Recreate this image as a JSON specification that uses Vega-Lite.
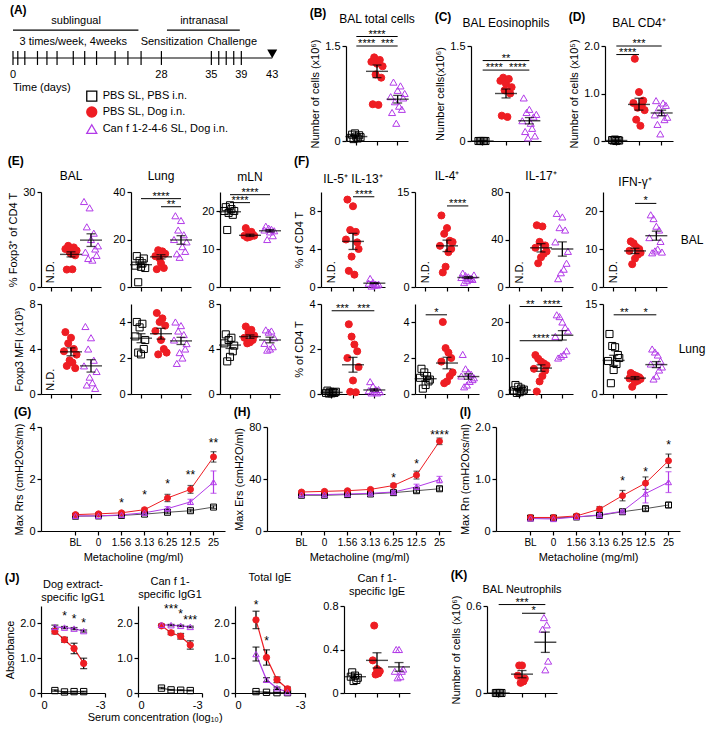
{
"$schema":"https://vega.github.io/schema/vega-lite/v6.json",
"background":"white",
"padding":{"left":4,"top":4,"right":4,"bottom":2},
"config":{
 "font":"Liberation Sans",
 "view":{"stroke":null},
 "axis":{"grid":false,"domainColor":"#000","domainWidth":1.2,"tickColor":"#000","tickWidth":1.2,"tickSize":4,"labelColor":"#000","labelFontSize":11,"labelPadding":2,"titleColor":"#000","titleFontSize":11,"titleFontWeight":"normal","titlePadding":4},
 "title":{"fontSize":12,"fontWeight":"normal","offset":3,"color":"#000"},
 "text":{"color":"#000"}
},
"datasets":{
"pts":[
{"p":"B","g":"P","k":2,"v":0.05},{"p":"B","g":"P","k":3,"v":0.1},{"p":"B","g":"P","k":4,"v":0.03},{"p":"B","g":"P","k":5,"v":0.12},{"p":"B","g":"P","k":6,"v":0.07},{"p":"B","g":"P","k":7,"v":0.04},{"p":"B","g":"P","k":8,"v":0.09},{"p":"B","g":"P","k":9,"v":0.06},
{"p":"B","g":"D","k":2,"v":1.25},{"p":"B","g":"D","k":3,"v":0.58},{"p":"B","g":"D","k":4,"v":1.32},{"p":"B","g":"D","k":5,"v":1.05},{"p":"B","g":"D","k":6,"v":1.22},{"p":"B","g":"D","k":7,"v":0.57},{"p":"B","g":"D","k":8,"v":1.28},{"p":"B","g":"D","k":9,"v":1.0},{"p":"B","g":"D","k":10,"v":1.18},
{"p":"B","g":"C","k":1,"v":0.7},{"p":"B","g":"C","k":2,"v":0.45},{"p":"B","g":"C","k":3,"v":0.93},{"p":"B","g":"C","k":4,"v":0.62},{"p":"B","g":"C","k":5,"v":0.28},{"p":"B","g":"C","k":6,"v":0.8},{"p":"B","g":"C","k":7,"v":0.55},{"p":"B","g":"C","k":8,"v":0.87},{"p":"B","g":"C","k":9,"v":0.5},{"p":"B","g":"C","k":10,"v":0.68},{"p":"B","g":"C","k":11,"v":0.75},
{"p":"C","g":"P","k":3,"v":0},{"p":"C","g":"P","k":4,"v":0},{"p":"C","g":"P","k":5,"v":0},{"p":"C","g":"P","k":6,"v":0},{"p":"C","g":"P","k":7,"v":0},{"p":"C","g":"P","k":8,"v":0},
{"p":"C","g":"D","k":2,"v":0.95},{"p":"C","g":"D","k":3,"v":0.4},{"p":"C","g":"D","k":4,"v":1.0},{"p":"C","g":"D","k":5,"v":0.8},{"p":"C","g":"D","k":6,"v":0.9},{"p":"C","g":"D","k":7,"v":0.38},{"p":"C","g":"D","k":8,"v":0.98},{"p":"C","g":"D","k":9,"v":0.75},{"p":"C","g":"D","k":10,"v":0.85},
{"p":"C","g":"C","k":1,"v":0.32},{"p":"C","g":"C","k":2,"v":0.68},{"p":"C","g":"C","k":3,"v":0.15},{"p":"C","g":"C","k":4,"v":0.45},{"p":"C","g":"C","k":5,"v":0.05},{"p":"C","g":"C","k":6,"v":0.5},{"p":"C","g":"C","k":7,"v":0.28},{"p":"C","g":"C","k":8,"v":0.2},{"p":"C","g":"C","k":9,"v":0.38},{"p":"C","g":"C","k":10,"v":0.08},{"p":"C","g":"C","k":11,"v":0.42},
{"p":"D","g":"P","k":3,"v":0.02},{"p":"D","g":"P","k":4,"v":0.01},{"p":"D","g":"P","k":5,"v":0.03},{"p":"D","g":"P","k":6,"v":0},{"p":"D","g":"P","k":7,"v":0.02},{"p":"D","g":"P","k":8,"v":0.01},
{"p":"D","g":"D","k":2,"v":0.8},{"p":"D","g":"D","k":3,"v":1.73},{"p":"D","g":"D","k":4,"v":0.45},{"p":"D","g":"D","k":5,"v":0.7},{"p":"D","g":"D","k":6,"v":1.03},{"p":"D","g":"D","k":7,"v":0.32},{"p":"D","g":"D","k":8,"v":0.75},{"p":"D","g":"D","k":9,"v":0.85},{"p":"D","g":"D","k":10,"v":0.65},
{"p":"D","g":"C","k":1,"v":0.55},{"p":"D","g":"C","k":2,"v":0.85},{"p":"D","g":"C","k":3,"v":0.35},{"p":"D","g":"C","k":4,"v":0.7},{"p":"D","g":"C","k":5,"v":0.15},{"p":"D","g":"C","k":6,"v":0.6},{"p":"D","g":"C","k":7,"v":0.8},{"p":"D","g":"C","k":8,"v":0.45},{"p":"D","g":"C","k":9,"v":0.75},{"p":"D","g":"C","k":10,"v":0.5},
{"p":"E1","g":"D","k":2,"v":12},{"p":"E1","g":"D","k":3,"v":5.5},{"p":"E1","g":"D","k":4,"v":13},{"p":"E1","g":"D","k":5,"v":11},{"p":"E1","g":"D","k":6,"v":10.5},{"p":"E1","g":"D","k":7,"v":5.6},{"p":"E1","g":"D","k":8,"v":12.5},{"p":"E1","g":"D","k":9,"v":10},{"p":"E1","g":"D","k":10,"v":11.5},
{"p":"E1","g":"C","k":1,"v":27},{"p":"E1","g":"C","k":2,"v":11},{"p":"E1","g":"C","k":3,"v":19},{"p":"E1","g":"C","k":4,"v":9},{"p":"E1","g":"C","k":5,"v":25},{"p":"E1","g":"C","k":6,"v":15},{"p":"E1","g":"C","k":7,"v":8.5},{"p":"E1","g":"C","k":8,"v":17},{"p":"E1","g":"C","k":9,"v":12},{"p":"E1","g":"C","k":10,"v":10},{"p":"E1","g":"C","k":11,"v":13},
{"p":"E2","g":"P","k":2,"v":9},{"p":"E2","g":"P","k":3,"v":13},{"p":"E2","g":"P","k":4,"v":2},{"p":"E2","g":"P","k":5,"v":11},{"p":"E2","g":"P","k":6,"v":8.5},{"p":"E2","g":"P","k":7,"v":10},{"p":"E2","g":"P","k":8,"v":12},{"p":"E2","g":"P","k":9,"v":8},
{"p":"E2","g":"D","k":2,"v":13},{"p":"E2","g":"D","k":3,"v":7.5},{"p":"E2","g":"D","k":4,"v":15.5},{"p":"E2","g":"D","k":5,"v":12},{"p":"E2","g":"D","k":6,"v":10},{"p":"E2","g":"D","k":7,"v":15},{"p":"E2","g":"D","k":8,"v":8},{"p":"E2","g":"D","k":9,"v":14},
{"p":"E2","g":"C","k":1,"v":20},{"p":"E2","g":"C","k":2,"v":30},{"p":"E2","g":"C","k":3,"v":14},{"p":"E2","g":"C","k":4,"v":24},{"p":"E2","g":"C","k":5,"v":12.5},{"p":"E2","g":"C","k":6,"v":28},{"p":"E2","g":"C","k":7,"v":17},{"p":"E2","g":"C","k":8,"v":22},{"p":"E2","g":"C","k":9,"v":15},{"p":"E2","g":"C","k":10,"v":19},
{"p":"E3","g":"P","k":2,"v":20},{"p":"E3","g":"P","k":3,"v":21},{"p":"E3","g":"P","k":4,"v":15},{"p":"E3","g":"P","k":5,"v":19.5},{"p":"E3","g":"P","k":6,"v":21.5},{"p":"E3","g":"P","k":7,"v":20.5},{"p":"E3","g":"P","k":8,"v":19},{"p":"E3","g":"P","k":9,"v":20},
{"p":"E3","g":"D","k":2,"v":13.5},{"p":"E3","g":"D","k":3,"v":15.5},{"p":"E3","g":"D","k":4,"v":13},{"p":"E3","g":"D","k":5,"v":14},{"p":"E3","g":"D","k":6,"v":13.2},{"p":"E3","g":"D","k":7,"v":14.5},{"p":"E3","g":"D","k":8,"v":13.8},{"p":"E3","g":"D","k":9,"v":13.5},
{"p":"E3","g":"C","k":2,"v":15},{"p":"E3","g":"C","k":3,"v":16},{"p":"E3","g":"C","k":4,"v":12.5},{"p":"E3","g":"C","k":5,"v":15.5},{"p":"E3","g":"C","k":6,"v":14.5},{"p":"E3","g":"C","k":7,"v":15.2},{"p":"E3","g":"C","k":8,"v":13.5},{"p":"E3","g":"C","k":9,"v":14.8},
{"p":"E4","g":"D","k":1,"v":3.8},{"p":"E4","g":"D","k":2,"v":5.5},{"p":"E4","g":"D","k":3,"v":2.5},{"p":"E4","g":"D","k":4,"v":4.5},{"p":"E4","g":"D","k":5,"v":3.0},{"p":"E4","g":"D","k":6,"v":5.0},{"p":"E4","g":"D","k":7,"v":2.8},{"p":"E4","g":"D","k":8,"v":4.0},{"p":"E4","g":"D","k":9,"v":2.3},{"p":"E4","g":"D","k":10,"v":3.5},
{"p":"E4","g":"C","k":1,"v":2.5},{"p":"E4","g":"C","k":2,"v":6},{"p":"E4","g":"C","k":3,"v":0.8},{"p":"E4","g":"C","k":4,"v":4},{"p":"E4","g":"C","k":5,"v":1.5},{"p":"E4","g":"C","k":6,"v":5},{"p":"E4","g":"C","k":7,"v":1},{"p":"E4","g":"C","k":8,"v":3},{"p":"E4","g":"C","k":9,"v":0.5},{"p":"E4","g":"C","k":10,"v":2},
{"p":"E5","g":"P","k":2,"v":3.2},{"p":"E5","g":"P","k":3,"v":4.0},{"p":"E5","g":"P","k":4,"v":2.3},{"p":"E5","g":"P","k":5,"v":3.7},{"p":"E5","g":"P","k":6,"v":2.2},{"p":"E5","g":"P","k":7,"v":3.9},{"p":"E5","g":"P","k":8,"v":2.5},{"p":"E5","g":"P","k":9,"v":3.0},
{"p":"E5","g":"D","k":2,"v":3.5},{"p":"E5","g":"D","k":3,"v":4.5},{"p":"E5","g":"D","k":4,"v":2.2},{"p":"E5","g":"D","k":5,"v":4.0},{"p":"E5","g":"D","k":6,"v":3.0},{"p":"E5","g":"D","k":7,"v":4.2},{"p":"E5","g":"D","k":8,"v":2.5},{"p":"E5","g":"D","k":9,"v":3.8},{"p":"E5","g":"D","k":10,"v":2.3},
{"p":"E5","g":"C","k":1,"v":3.0},{"p":"E5","g":"C","k":2,"v":4.0},{"p":"E5","g":"C","k":3,"v":1.7},{"p":"E5","g":"C","k":4,"v":3.5},{"p":"E5","g":"C","k":5,"v":2.3},{"p":"E5","g":"C","k":6,"v":3.8},{"p":"E5","g":"C","k":7,"v":2.0},{"p":"E5","g":"C","k":8,"v":3.3},{"p":"E5","g":"C","k":9,"v":2.5},{"p":"E5","g":"C","k":10,"v":2.8},
{"p":"E6","g":"P","k":2,"v":4.5},{"p":"E6","g":"P","k":3,"v":5.3},{"p":"E6","g":"P","k":4,"v":2.9},{"p":"E6","g":"P","k":5,"v":4.8},{"p":"E6","g":"P","k":6,"v":3.3},{"p":"E6","g":"P","k":7,"v":5.0},{"p":"E6","g":"P","k":8,"v":3.8},{"p":"E6","g":"P","k":9,"v":4.3},
{"p":"E6","g":"D","k":2,"v":5.0},{"p":"E6","g":"D","k":3,"v":6.0},{"p":"E6","g":"D","k":4,"v":4.5},{"p":"E6","g":"D","k":5,"v":5.5},{"p":"E6","g":"D","k":6,"v":4.6},{"p":"E6","g":"D","k":7,"v":5.7},{"p":"E6","g":"D","k":8,"v":4.8},{"p":"E6","g":"D","k":9,"v":5.2},
{"p":"E6","g":"C","k":2,"v":4.5},{"p":"E6","g":"C","k":3,"v":5.7},{"p":"E6","g":"C","k":4,"v":3.9},{"p":"E6","g":"C","k":5,"v":5.5},{"p":"E6","g":"C","k":6,"v":4.0},{"p":"E6","g":"C","k":7,"v":5.6},{"p":"E6","g":"C","k":8,"v":4.2},{"p":"E6","g":"C","k":9,"v":5.0},
{"p":"F1","g":"D","k":1,"v":5.0},{"p":"F1","g":"D","k":2,"v":9.2},{"p":"F1","g":"D","k":3,"v":1.7},{"p":"F1","g":"D","k":4,"v":6.0},{"p":"F1","g":"D","k":5,"v":3.2},{"p":"F1","g":"D","k":6,"v":8.5},{"p":"F1","g":"D","k":7,"v":1.3},{"p":"F1","g":"D","k":8,"v":5.8},{"p":"F1","g":"D","k":9,"v":4.7},{"p":"F1","g":"D","k":10,"v":4.0},
{"p":"F1","g":"C","k":2,"v":0.4},{"p":"F1","g":"C","k":3,"v":0.9},{"p":"F1","g":"C","k":4,"v":0.1},{"p":"F1","g":"C","k":5,"v":0.5},{"p":"F1","g":"C","k":6,"v":0.2},{"p":"F1","g":"C","k":7,"v":0.3},{"p":"F1","g":"C","k":8,"v":0.2},{"p":"F1","g":"C","k":9,"v":0.3},
{"p":"F2","g":"D","k":1,"v":6.5},{"p":"F2","g":"D","k":2,"v":11.3},{"p":"F2","g":"D","k":3,"v":2.3},{"p":"F2","g":"D","k":4,"v":8.4},{"p":"F2","g":"D","k":5,"v":3.2},{"p":"F2","g":"D","k":6,"v":9.3},{"p":"F2","g":"D","k":7,"v":5.5},{"p":"F2","g":"D","k":8,"v":7.3},{"p":"F2","g":"D","k":9,"v":6.0},{"p":"F2","g":"D","k":10,"v":7.1},
{"p":"F2","g":"C","k":1,"v":1.5},{"p":"F2","g":"C","k":2,"v":2.2},{"p":"F2","g":"C","k":3,"v":0.7},{"p":"F2","g":"C","k":4,"v":1.8},{"p":"F2","g":"C","k":5,"v":1.0},{"p":"F2","g":"C","k":6,"v":1.6},{"p":"F2","g":"C","k":7,"v":1.3},{"p":"F2","g":"C","k":8,"v":1.4},{"p":"F2","g":"C","k":9,"v":1.2},{"p":"F2","g":"C","k":10,"v":1.9},
{"p":"F3","g":"D","k":2,"v":33},{"p":"F3","g":"D","k":3,"v":52},{"p":"F3","g":"D","k":4,"v":20},{"p":"F3","g":"D","k":5,"v":38},{"p":"F3","g":"D","k":6,"v":25},{"p":"F3","g":"D","k":7,"v":51},{"p":"F3","g":"D","k":8,"v":28},{"p":"F3","g":"D","k":9,"v":35},{"p":"F3","g":"D","k":10,"v":30},
{"p":"F3","g":"C","k":1,"v":38},{"p":"F3","g":"C","k":2,"v":62},{"p":"F3","g":"C","k":3,"v":7},{"p":"F3","g":"C","k":4,"v":50},{"p":"F3","g":"C","k":5,"v":12},{"p":"F3","g":"C","k":6,"v":59},{"p":"F3","g":"C","k":7,"v":15},{"p":"F3","g":"C","k":8,"v":48},{"p":"F3","g":"C","k":9,"v":20},{"p":"F3","g":"C","k":10,"v":30},
{"p":"F4","g":"D","k":2,"v":9.5},{"p":"F4","g":"D","k":3,"v":12},{"p":"F4","g":"D","k":4,"v":6},{"p":"F4","g":"D","k":5,"v":11.5},{"p":"F4","g":"D","k":6,"v":7.5},{"p":"F4","g":"D","k":7,"v":10.5},{"p":"F4","g":"D","k":8,"v":8.5},{"p":"F4","g":"D","k":9,"v":10},{"p":"F4","g":"D","k":10,"v":9},
{"p":"F4","g":"C","k":1,"v":13},{"p":"F4","g":"C","k":2,"v":19},{"p":"F4","g":"C","k":3,"v":9},{"p":"F4","g":"C","k":4,"v":18},{"p":"F4","g":"C","k":5,"v":9.5},{"p":"F4","g":"C","k":6,"v":16},{"p":"F4","g":"C","k":7,"v":10},{"p":"F4","g":"C","k":8,"v":15},{"p":"F4","g":"C","k":9,"v":12},{"p":"F4","g":"C","k":10,"v":9.2},
{"p":"F5","g":"P","k":2,"v":0.05},{"p":"F5","g":"P","k":3,"v":0.15},{"p":"F5","g":"P","k":4,"v":0.02},{"p":"F5","g":"P","k":5,"v":0.1},{"p":"F5","g":"P","k":6,"v":0.03},{"p":"F5","g":"P","k":7,"v":0.08},{"p":"F5","g":"P","k":8,"v":0.05},{"p":"F5","g":"P","k":9,"v":0.1},
{"p":"F5","g":"D","k":2,"v":1.6},{"p":"F5","g":"D","k":3,"v":3.1},{"p":"F5","g":"D","k":4,"v":0.1},{"p":"F5","g":"D","k":5,"v":2.55},{"p":"F5","g":"D","k":6,"v":0.6},{"p":"F5","g":"D","k":7,"v":2.2},{"p":"F5","g":"D","k":8,"v":0.08},{"p":"F5","g":"D","k":9,"v":1.9},{"p":"F5","g":"D","k":10,"v":1.2},
{"p":"F5","g":"C","k":2,"v":0.15},{"p":"F5","g":"C","k":3,"v":0.55},{"p":"F5","g":"C","k":4,"v":0.05},{"p":"F5","g":"C","k":5,"v":0.35},{"p":"F5","g":"C","k":6,"v":0.1},{"p":"F5","g":"C","k":7,"v":0.2},{"p":"F5","g":"C","k":8,"v":0.05},{"p":"F5","g":"C","k":9,"v":0.2},{"p":"F5","g":"C","k":10,"v":0.1},
{"p":"F6","g":"P","k":2,"v":0.9},{"p":"F6","g":"P","k":3,"v":1.4},{"p":"F6","g":"P","k":4,"v":0.3},{"p":"F6","g":"P","k":5,"v":1.2},{"p":"F6","g":"P","k":6,"v":0.5},{"p":"F6","g":"P","k":7,"v":1.0},{"p":"F6","g":"P","k":8,"v":0.7},{"p":"F6","g":"P","k":9,"v":0.8},
{"p":"F6","g":"D","k":2,"v":1.8},{"p":"F6","g":"D","k":3,"v":4.0},{"p":"F6","g":"D","k":4,"v":0.6},{"p":"F6","g":"D","k":5,"v":2.55},{"p":"F6","g":"D","k":6,"v":0.7},{"p":"F6","g":"D","k":7,"v":2.3},{"p":"F6","g":"D","k":8,"v":1.0},{"p":"F6","g":"D","k":9,"v":2.0},{"p":"F6","g":"D","k":10,"v":1.2},
{"p":"F6","g":"C","k":1,"v":1.0},{"p":"F6","g":"C","k":2,"v":2.2},{"p":"F6","g":"C","k":3,"v":0.4},{"p":"F6","g":"C","k":4,"v":1.4},{"p":"F6","g":"C","k":5,"v":0.5},{"p":"F6","g":"C","k":6,"v":1.2},{"p":"F6","g":"C","k":7,"v":0.7},{"p":"F6","g":"C","k":8,"v":1.1},{"p":"F6","g":"C","k":9,"v":0.8},{"p":"F6","g":"C","k":10,"v":0.9},
{"p":"F7","g":"P","k":2,"v":1.0},{"p":"F7","g":"P","k":3,"v":2.5},{"p":"F7","g":"P","k":4,"v":0.3},{"p":"F7","g":"P","k":5,"v":2.0},{"p":"F7","g":"P","k":6,"v":0.5},{"p":"F7","g":"P","k":7,"v":1.5},{"p":"F7","g":"P","k":8,"v":0.8},{"p":"F7","g":"P","k":9,"v":1.2},
{"p":"F7","g":"D","k":1,"v":7.0},{"p":"F7","g":"D","k":2,"v":10.8},{"p":"F7","g":"D","k":3,"v":0.7},{"p":"F7","g":"D","k":4,"v":9.8},{"p":"F7","g":"D","k":5,"v":3.5},{"p":"F7","g":"D","k":6,"v":9.0},{"p":"F7","g":"D","k":7,"v":5.0},{"p":"F7","g":"D","k":8,"v":8.5},{"p":"F7","g":"D","k":9,"v":6.5},{"p":"F7","g":"D","k":10,"v":8.0},
{"p":"F7","g":"C","k":1,"v":16},{"p":"F7","g":"C","k":2,"v":22},{"p":"F7","g":"C","k":3,"v":10},{"p":"F7","g":"C","k":4,"v":21.5},{"p":"F7","g":"C","k":5,"v":10.5},{"p":"F7","g":"C","k":6,"v":20},{"p":"F7","g":"C","k":7,"v":11},{"p":"F7","g":"C","k":8,"v":18.5},{"p":"F7","g":"C","k":9,"v":12},{"p":"F7","g":"C","k":10,"v":17.5},
{"p":"F8","g":"P","k":2,"v":5.5},{"p":"F8","g":"P","k":3,"v":10},{"p":"F8","g":"P","k":4,"v":1.8},{"p":"F8","g":"P","k":5,"v":8},{"p":"F8","g":"P","k":6,"v":4},{"p":"F8","g":"P","k":7,"v":7.8},{"p":"F8","g":"P","k":8,"v":5},{"p":"F8","g":"P","k":9,"v":6.5},{"p":"F8","g":"P","k":10,"v":6},
{"p":"F8","g":"D","k":2,"v":2.6},{"p":"F8","g":"D","k":3,"v":3.5},{"p":"F8","g":"D","k":4,"v":1.2},{"p":"F8","g":"D","k":5,"v":3.2},{"p":"F8","g":"D","k":6,"v":2.0},{"p":"F8","g":"D","k":7,"v":3.0},{"p":"F8","g":"D","k":8,"v":2.2},{"p":"F8","g":"D","k":9,"v":2.8},{"p":"F8","g":"D","k":10,"v":2.5},
{"p":"F8","g":"C","k":2,"v":5.0},{"p":"F8","g":"C","k":3,"v":7.5},{"p":"F8","g":"C","k":4,"v":2.5},{"p":"F8","g":"C","k":5,"v":7.0},{"p":"F8","g":"C","k":6,"v":3.0},{"p":"F8","g":"C","k":7,"v":6.5},{"p":"F8","g":"C","k":8,"v":4.0},{"p":"F8","g":"C","k":9,"v":5.5},{"p":"F8","g":"C","k":10,"v":4.5},
{"p":"J4","g":"P","k":3,"v":0.15},{"p":"J4","g":"P","k":4,"v":0.19},{"p":"J4","g":"P","k":5,"v":0.11},{"p":"J4","g":"P","k":6,"v":0.16},{"p":"J4","g":"P","k":7,"v":0.12},{"p":"J4","g":"P","k":8,"v":0.14},
{"p":"J4","g":"D","k":3,"v":0.3},{"p":"J4","g":"D","k":4,"v":0.62},{"p":"J4","g":"D","k":5,"v":0.17},{"p":"J4","g":"D","k":6,"v":0.22},{"p":"J4","g":"D","k":7,"v":0.18},{"p":"J4","g":"D","k":8,"v":0.2},
{"p":"J4","g":"C","k":3,"v":0.2},{"p":"J4","g":"C","k":4,"v":0.4},{"p":"J4","g":"C","k":5,"v":0.14},{"p":"J4","g":"C","k":6,"v":0.4},{"p":"J4","g":"C","k":7,"v":0.15},{"p":"J4","g":"C","k":8,"v":0.2},{"p":"J4","g":"C","k":9,"v":0.22},
{"p":"K","g":"P","k":4,"v":0},{"p":"K","g":"P","k":5,"v":0},{"p":"K","g":"P","k":6,"v":0},{"p":"K","g":"P","k":7,"v":0},{"p":"K","g":"P","k":8,"v":0},
{"p":"K","g":"D","k":3,"v":0.12},{"p":"K","g":"D","k":4,"v":0.19},{"p":"K","g":"D","k":5,"v":0.07},{"p":"K","g":"D","k":6,"v":0.19},{"p":"K","g":"D","k":7,"v":0.08},{"p":"K","g":"D","k":8,"v":0.1},
{"p":"K","g":"C","k":4,"v":0.44},{"p":"K","g":"C","k":5,"v":0.52},{"p":"K","g":"C","k":6,"v":0.16},{"p":"K","g":"C","k":7,"v":0.47},{"p":"K","g":"C","k":8,"v":0.22}
],
"ms":[
{"p":"B","g":"P","m":0.07,"lo":0.05,"hi":0.09},{"p":"B","g":"D","m":1.1,"lo":1.0,"hi":1.2},{"p":"B","g":"C","m":0.66,"lo":0.6,"hi":0.72},
{"p":"C","g":"P","m":0,"lo":0,"hi":0},{"p":"C","g":"D","m":0.75,"lo":0.68,"hi":0.82},{"p":"C","g":"C","m":0.32,"lo":0.27,"hi":0.37},
{"p":"D","g":"P","m":0.01,"lo":0,"hi":0.02},{"p":"D","g":"D","m":0.77,"lo":0.65,"hi":0.9},{"p":"D","g":"C","m":0.59,"lo":0.53,"hi":0.65},
{"p":"E1","g":"D","m":10.3,"lo":9.5,"hi":11.1},{"p":"E1","g":"C","m":14.8,"lo":12.8,"hi":16.8},
{"p":"E2","g":"P","m":9.4,"lo":8.3,"hi":10.5},{"p":"E2","g":"D","m":12.7,"lo":11.8,"hi":13.6},{"p":"E2","g":"C","m":19.8,"lo":18,"hi":21.6},
{"p":"E3","g":"P","m":19.8,"lo":19.2,"hi":20.4},{"p":"E3","g":"D","m":13.6,"lo":13.3,"hi":13.9},{"p":"E3","g":"C","m":14.8,"lo":14.5,"hi":15.1},
{"p":"E4","g":"D","m":3.75,"lo":3.4,"hi":4.1},{"p":"E4","g":"C","m":2.5,"lo":1.95,"hi":3.05},
{"p":"E5","g":"P","m":3.1,"lo":2.85,"hi":3.35},{"p":"E5","g":"D","m":3.35,"lo":3.05,"hi":3.65},{"p":"E5","g":"C","m":2.95,"lo":2.75,"hi":3.15},
{"p":"E6","g":"P","m":4.35,"lo":4.05,"hi":4.65},{"p":"E6","g":"D","m":5.1,"lo":4.95,"hi":5.25},{"p":"E6","g":"C","m":4.8,"lo":4.55,"hi":5.05},
{"p":"F1","g":"D","m":4.8,"lo":3.95,"hi":5.65},{"p":"F1","g":"C","m":0.4,"lo":0.35,"hi":0.45},
{"p":"F2","g":"D","m":6.5,"lo":5.6,"hi":7.4},{"p":"F2","g":"C","m":1.5,"lo":1.35,"hi":1.65},
{"p":"F3","g":"D","m":33,"lo":29.5,"hi":36.5},{"p":"F3","g":"C","m":32,"lo":26,"hi":38},
{"p":"F4","g":"D","m":9.5,"lo":8.8,"hi":10.2},{"p":"F4","g":"C","m":13.5,"lo":12.3,"hi":14.7},
{"p":"F5","g":"P","m":0.07,"lo":0.05,"hi":0.09},{"p":"F5","g":"D","m":1.3,"lo":0.97,"hi":1.63},{"p":"F5","g":"C","m":0.18,"lo":0.13,"hi":0.23},
{"p":"F6","g":"P","m":0.85,"lo":0.73,"hi":0.97},{"p":"F6","g":"D","m":1.72,"lo":1.4,"hi":2.04},{"p":"F6","g":"C","m":0.97,"lo":0.82,"hi":1.12},
{"p":"F7","g":"P","m":1.1,"lo":0.8,"hi":1.4},{"p":"F7","g":"D","m":7.2,"lo":6.3,"hi":8.1},{"p":"F7","g":"C","m":16.3,"lo":15,"hi":17.6},
{"p":"F8","g":"P","m":5.6,"lo":4.75,"hi":6.45},{"p":"F8","g":"D","m":2.65,"lo":2.4,"hi":2.9},{"p":"F8","g":"C","m":4.9,"lo":4.4,"hi":5.4},
{"p":"J4","g":"P","m":0.15,"lo":0.13,"hi":0.17},{"p":"J4","g":"D","m":0.3,"lo":0.23,"hi":0.37},{"p":"J4","g":"C","m":0.24,"lo":0.2,"hi":0.28},
{"p":"K","g":"P","m":0,"lo":0,"hi":0},{"p":"K","g":"D","m":0.13,"lo":0.105,"hi":0.155},{"p":"K","g":"C","m":0.35,"lo":0.28,"hi":0.42}
],
"sg":[
{"p":"B","a":"P","b":"C","c":"D","y":1.65,"s":"****"},{"p":"B","a":"P","b":"D","c":"PD","y":1.5,"s":"****"},{"p":"B","a":"D","b":"C","c":"DC","y":1.5,"s":"***"},
{"p":"C","a":"P","b":"C","c":"D","y":1.27,"s":"**"},{"p":"C","a":"P","b":"D","c":"PD","y":1.12,"s":"****"},{"p":"C","a":"D","b":"C","c":"DC","y":1.12,"s":"****"},
{"p":"D","a":"P","b":"C","c":"D","y":2.0,"s":"***"},{"p":"D","a":"P","b":"D","c":"PD","y":1.82,"s":"****"},
{"p":"E2","a":"P","b":"C","c":"D","y":37.2,"s":"****"},{"p":"E2","a":"D","b":"C","c":"DC","y":33.8,"s":"**"},
{"p":"E3","a":"P","b":"C","c":"D","y":24.3,"s":"****"},{"p":"E3","a":"P","b":"D","c":"PD","y":22.2,"s":"****"},
{"p":"F1","a":"D","b":"C","c":"DC","y":9.5,"s":"****"},
{"p":"F2","a":"D","b":"C","c":"DC","y":12.8,"s":"****"},
{"p":"F4","a":"D","b":"C","c":"DC","y":22,"s":"*"},
{"p":"F5","a":"P","b":"D","c":"PD","y":3.7,"s":"***"},{"p":"F5","a":"D","b":"C","c":"DC","y":3.7,"s":"***"},
{"p":"F6","a":"P","b":"D","c":"PD","y":4.4,"s":"*"},
{"p":"F7","a":"P","b":"D","c":"PD","y":24.3,"s":"**"},{"p":"F7","a":"D","b":"C","c":"DC","y":24.3,"s":"****"},{"p":"F7","a":"P","b":"C","c":"D","y":14.8,"s":"****"},
{"p":"F8","a":"P","b":"D","c":"PD","y":13.2,"s":"**"},{"p":"F8","a":"D","b":"C","c":"DC","y":13.2,"s":"*"},
{"p":"K","a":"P","b":"C","c":"D","y":0.61,"s":"***"},{"p":"K","a":"D","b":"C","c":"DC","y":0.55,"s":"*"}
],
"nd":[
{"p":"E1","g":"P","y":1.2,"t":"N.D."},{"p":"E4","g":"P","y":0.3,"t":"N.D."},{"p":"F1","g":"P","y":0.4,"t":"N.D."},{"p":"F2","g":"P","y":0.6,"t":"N.D."},{"p":"F3","g":"P","y":3,"t":"N.D."},{"p":"F4","g":"P","y":1,"t":"N.D."}
],
"dr":[
{"p":"G","g":"P","d":"BL","m":0.57,"lo":0.54,"hi":0.6},{"p":"G","g":"P","d":"0","m":0.58,"lo":0.55,"hi":0.61},{"p":"G","g":"P","d":"1.56","m":0.6,"lo":0.57,"hi":0.63},{"p":"G","g":"P","d":"3.13","m":0.65,"lo":0.61,"hi":0.69},{"p":"G","g":"P","d":"6.25","m":0.72,"lo":0.67,"hi":0.77},{"p":"G","g":"P","d":"12.5","m":0.78,"lo":0.73,"hi":0.83},{"p":"G","g":"P","d":"25","m":0.92,"lo":0.87,"hi":0.97},
{"p":"G","g":"D","d":"BL","m":0.63,"lo":0.59,"hi":0.67},{"p":"G","g":"D","d":"0","m":0.66,"lo":0.61,"hi":0.71},{"p":"G","g":"D","d":"1.56","m":0.7,"lo":0.65,"hi":0.75},{"p":"G","g":"D","d":"3.13","m":0.82,"lo":0.76,"hi":0.88},{"p":"G","g":"D","d":"6.25","m":1.27,"lo":1.13,"hi":1.41},{"p":"G","g":"D","d":"12.5","m":1.6,"lo":1.45,"hi":1.75},{"p":"G","g":"D","d":"25","m":2.85,"lo":2.65,"hi":3.05},
{"p":"G","g":"C","d":"BL","m":0.58,"lo":0.55,"hi":0.61},{"p":"G","g":"C","d":"0","m":0.58,"lo":0.55,"hi":0.61},{"p":"G","g":"C","d":"1.56","m":0.62,"lo":0.59,"hi":0.65},{"p":"G","g":"C","d":"3.13","m":0.7,"lo":0.66,"hi":0.74},{"p":"G","g":"C","d":"6.25","m":0.86,"lo":0.78,"hi":0.94},{"p":"G","g":"C","d":"12.5","m":1.12,"lo":1.02,"hi":1.22},{"p":"G","g":"C","d":"25","m":1.88,"lo":1.45,"hi":2.31},
{"p":"H","g":"P","d":"BL","m":27.5,"lo":26.5,"hi":28.5},{"p":"H","g":"P","d":"0","m":27.5,"lo":26.5,"hi":28.5},{"p":"H","g":"P","d":"1.56","m":28,"lo":27,"hi":29},{"p":"H","g":"P","d":"3.13","m":28.5,"lo":27.5,"hi":29.5},{"p":"H","g":"P","d":"6.25","m":29.5,"lo":28.5,"hi":30.5},{"p":"H","g":"P","d":"12.5","m":31,"lo":29.5,"hi":32.5},{"p":"H","g":"P","d":"25","m":32.5,"lo":31,"hi":34},
{"p":"H","g":"D","d":"BL","m":30,"lo":29,"hi":31},{"p":"H","g":"D","d":"0","m":30.5,"lo":29.5,"hi":31.5},{"p":"H","g":"D","d":"1.56","m":31,"lo":30,"hi":32},{"p":"H","g":"D","d":"3.13","m":32,"lo":31,"hi":33},{"p":"H","g":"D","d":"6.25","m":35,"lo":33.5,"hi":36.5},{"p":"H","g":"D","d":"12.5","m":43,"lo":40,"hi":46},{"p":"H","g":"D","d":"25","m":69,"lo":66.5,"hi":71.5},
{"p":"H","g":"C","d":"BL","m":28,"lo":27,"hi":29},{"p":"H","g":"C","d":"0","m":28,"lo":27,"hi":29},{"p":"H","g":"C","d":"1.56","m":28.5,"lo":27.5,"hi":29.5},{"p":"H","g":"C","d":"3.13","m":29,"lo":28,"hi":30},{"p":"H","g":"C","d":"6.25","m":30,"lo":29,"hi":31},{"p":"H","g":"C","d":"12.5","m":34,"lo":32,"hi":36},{"p":"H","g":"C","d":"25","m":39.5,"lo":37,"hi":42},
{"p":"I","g":"P","d":"BL","m":0.25,"lo":0.23,"hi":0.27},{"p":"I","g":"P","d":"0","m":0.25,"lo":0.23,"hi":0.27},{"p":"I","g":"P","d":"1.56","m":0.27,"lo":0.25,"hi":0.29},{"p":"I","g":"P","d":"3.13","m":0.3,"lo":0.28,"hi":0.32},{"p":"I","g":"P","d":"6.25","m":0.37,"lo":0.35,"hi":0.39},{"p":"I","g":"P","d":"12.5","m":0.43,"lo":0.39,"hi":0.47},{"p":"I","g":"P","d":"25","m":0.5,"lo":0.45,"hi":0.55},
{"p":"I","g":"D","d":"BL","m":0.26,"lo":0.24,"hi":0.28},{"p":"I","g":"D","d":"0","m":0.26,"lo":0.24,"hi":0.28},{"p":"I","g":"D","d":"1.56","m":0.29,"lo":0.27,"hi":0.31},{"p":"I","g":"D","d":"3.13","m":0.42,"lo":0.37,"hi":0.47},{"p":"I","g":"D","d":"6.25","m":0.68,"lo":0.58,"hi":0.78},{"p":"I","g":"D","d":"12.5","m":0.92,"lo":0.8,"hi":1.04},{"p":"I","g":"D","d":"25","m":1.35,"lo":1.22,"hi":1.48},
{"p":"I","g":"C","d":"BL","m":0.24,"lo":0.22,"hi":0.26},{"p":"I","g":"C","d":"0","m":0.23,"lo":0.21,"hi":0.25},{"p":"I","g":"C","d":"1.56","m":0.27,"lo":0.25,"hi":0.29},{"p":"I","g":"C","d":"3.13","m":0.31,"lo":0.29,"hi":0.33},{"p":"I","g":"C","d":"6.25","m":0.38,"lo":0.36,"hi":0.4},{"p":"I","g":"C","d":"12.5","m":0.72,"lo":0.54,"hi":0.9},{"p":"I","g":"C","d":"25","m":0.94,"lo":0.74,"hi":1.14}
],
"st":[
{"p":"G","d":"1.56","y":1.07,"s":"*"},{"p":"G","d":"3.13","y":1.37,"s":"*"},{"p":"G","d":"6.25","y":1.82,"s":"*"},{"p":"G","d":"12.5","y":2.15,"s":"**"},{"p":"G","d":"25","y":3.4,"s":"**"},
{"p":"H","d":"6.25","y":41,"s":"*"},{"p":"H","d":"12.5","y":51.5,"s":"*"},{"p":"H","d":"25","y":74,"s":"****"},
{"p":"I","d":"6.25","y":0.96,"s":"*"},{"p":"I","d":"12.5","y":1.14,"s":"*"},{"p":"I","d":"25","y":1.65,"s":"*"}
],
"ab":[
{"p":"J1","g":"P","c":-0.65,"m":0.07,"lo":0.05,"hi":0.09},{"p":"J1","g":"P","c":-1.1,"m":0.03,"lo":0.02,"hi":0.04},{"p":"J1","g":"P","c":-1.55,"m":0.04,"lo":0.03,"hi":0.05},{"p":"J1","g":"P","c":-2.0,"m":0.04,"lo":0.03,"hi":0.05},
{"p":"J1","g":"D","c":-0.65,"m":1.77,"lo":1.7,"hi":1.84},{"p":"J1","g":"D","c":-1.1,"m":1.53,"lo":1.46,"hi":1.6},{"p":"J1","g":"D","c":-1.55,"m":1.28,"lo":1.13,"hi":1.43},{"p":"J1","g":"D","c":-2.0,"m":0.85,"lo":0.7,"hi":1.0},
{"p":"J1","g":"C","c":-0.65,"m":1.9,"lo":1.85,"hi":1.95},{"p":"J1","g":"C","c":-1.1,"m":1.88,"lo":1.85,"hi":1.91},{"p":"J1","g":"C","c":-1.55,"m":1.85,"lo":1.82,"hi":1.88},{"p":"J1","g":"C","c":-2.0,"m":1.78,"lo":1.75,"hi":1.81},
{"p":"J2","g":"P","c":-1.1,"m":0.14,"lo":0.12,"hi":0.16},{"p":"J2","g":"P","c":-1.55,"m":0.09,"lo":0.08,"hi":0.1},{"p":"J2","g":"P","c":-2.0,"m":0.08,"lo":0.07,"hi":0.09},{"p":"J2","g":"P","c":-2.45,"m":0.07,"lo":0.06,"hi":0.08},
{"p":"J2","g":"D","c":-1.1,"m":1.93,"lo":1.9,"hi":1.96},{"p":"J2","g":"D","c":-1.55,"m":1.73,"lo":1.68,"hi":1.78},{"p":"J2","g":"D","c":-2.0,"m":1.63,"lo":1.55,"hi":1.71},{"p":"J2","g":"D","c":-2.45,"m":1.38,"lo":1.26,"hi":1.5},
{"p":"J2","g":"C","c":-1.1,"m":1.96,"lo":1.94,"hi":1.98},{"p":"J2","g":"C","c":-1.55,"m":1.95,"lo":1.93,"hi":1.97},{"p":"J2","g":"C","c":-2.0,"m":1.93,"lo":1.91,"hi":1.95},{"p":"J2","g":"C","c":-2.45,"m":1.9,"lo":1.88,"hi":1.92},
{"p":"J3","g":"P","c":-0.9,"m":0.04,"lo":0.03,"hi":0.05},{"p":"J3","g":"P","c":-1.35,"m":0.02,"lo":0.01,"hi":0.03},{"p":"J3","g":"P","c":-1.8,"m":0.01,"lo":0.0,"hi":0.02},{"p":"J3","g":"P","c":-2.25,"m":0.01,"lo":0.0,"hi":0.02},
{"p":"J3","g":"D","c":-0.9,"m":2.1,"lo":1.85,"hi":2.35},{"p":"J3","g":"D","c":-1.35,"m":1.02,"lo":0.8,"hi":1.24},{"p":"J3","g":"D","c":-1.8,"m":0.38,"lo":0.3,"hi":0.46},{"p":"J3","g":"D","c":-2.25,"m":0.12,"lo":0.07,"hi":0.17},
{"p":"J3","g":"C","c":-0.9,"m":1.12,"lo":0.92,"hi":1.32},{"p":"J3","g":"C","c":-1.35,"m":0.38,"lo":0.32,"hi":0.44},{"p":"J3","g":"C","c":-1.8,"m":0.14,"lo":0.11,"hi":0.17},{"p":"J3","g":"C","c":-2.25,"m":0.02,"lo":0.01,"hi":0.03}
],
"sj":[
{"p":"J1","c":-1.1,"y":2.2,"s":"*"},{"p":"J1","c":-1.55,"y":2.14,"s":"*"},{"p":"J1","c":-2.0,"y":2.02,"s":"*"},
{"p":"J2","c":-1.55,"y":2.42,"s":"***"},{"p":"J2","c":-2.0,"y":2.27,"s":"*"},{"p":"J2","c":-2.45,"y":2.1,"s":"***"},
{"p":"J3","c":-0.9,"y":2.52,"s":"*"},{"p":"J3","c":-1.35,"y":1.5,"s":"*"}
]
},
"columns":1,"align":"none","spacing":6,
"concat":[
{"columns":2,"align":"none","spacing":18,"concat":[
 {"width":250,"height":90,"title":{"text":"(A)","anchor":"start","frame":"bounds","fontWeight":"bold","fontSize":12,"offset":2,"dy":4},
  "layer":[
   {"data":{"values":[{"a":0,"b":24.6,"y":8.83},{"a":28.8,"b":38.8,"y":8.83},{"a":0,"b":43,"y":6.5}]},"mark":{"type":"rule","color":"#000","strokeWidth":1.2},"encoding":{"x":{"field":"a","type":"quantitative","scale":{"type":"pow","exponent":1.3,"domain":[0,43],"range":[-28,247]},"axis":null},"x2":{"field":"b"},"y":{"field":"y","type":"quantitative","scale":{"domain":[0,10],"range":[90,-30]},"axis":null}}},
   {"data":{"values":[{"d":0},{"d":2},{"d":4},{"d":7},{"d":9},{"d":11},{"d":14},{"d":16},{"d":18},{"d":21},{"d":23},{"d":25},{"d":28},{"d":35},{"d":36},{"d":37},{"d":38},{"d":39}]},"mark":{"type":"rule","color":"#000","strokeWidth":1.2},"encoding":{"x":{"field":"d","type":"quantitative"},"y":{"datum":5.92},"y2":{"datum":7.08}}},
   {"data":{"values":[{"d":43,"y":6.85}]},"mark":{"type":"point","shape":"triangle-down","filled":true,"color":"#000","size":100,"opacity":1},"encoding":{"x":{"field":"d","type":"quantitative"},"y":{"field":"y","type":"quantitative"}}},
   {"data":{"values":[{"t":"sublingual","d":14.5,"y":9.58},{"t":"intranasal","d":34,"y":9.58},{"t":"3 times/week, 4weeks","d":14,"y":7.83},{"t":"Sensitization","d":29.5,"y":7.83},{"t":"Challenge","d":37.8,"y":7.83},{"t":"0","d":0,"y":5.08},{"t":"28","d":28,"y":5.08},{"t":"35","d":35,"y":5.08},{"t":"39","d":39,"y":5.08},{"t":"43","d":43,"y":5.08}]},"mark":{"type":"text","fontSize":11,"align":"center","baseline":"middle"},"encoding":{"x":{"field":"d","type":"quantitative"},"y":{"field":"y","type":"quantitative"},"text":{"field":"t"}}},
   {"data":{"values":[{"t":"Time (days)","d":0,"y":4.0},{"t":"PBS SL, PBS i.n.","d":19,"y":3.33},{"t":"PBS SL, Dog i.n.","d":19,"y":2.0},{"t":"Can f 1-2-4-6 SL, Dog i.n.","d":19,"y":0.58}]},"mark":{"type":"text","fontSize":11,"align":"left","baseline":"middle"},"encoding":{"x":{"field":"d","type":"quantitative"},"y":{"field":"y","type":"quantitative"},"text":{"field":"t"}}},
   {"data":{"values":[{"g":"P","d":17.2,"y":3.33},{"g":"D","d":17.2,"y":2.0},{"g":"C","d":17.2,"y":0.58}]},"mark":{"type":"point","filled":true,"size":100,"strokeWidth":1.3,"opacity":1},"encoding":{"x":{"field":"d","type":"quantitative"},"y":{"field":"y","type":"quantitative"},"shape":{"field":"g","type":"nominal","scale":{"domain":["P","D","C"],"range":["square","circle","triangle-up"]},"legend":null},"stroke":{"field":"g","type":"nominal","scale":{"domain":["P","D","C"],"range":["#000000","#ee1d23","#b23ae8"]},"legend":null},"fill":{"field":"g","type":"nominal","scale":{"domain":["P","D","C"],"range":["transparent","#ee1d23","transparent"]},"legend":null}}}
  ]},
 {"columns":3,"align":"none","spacing":18,"concat":[
 {"title":{"text":"(B)","anchor":"start","frame":"bounds","fontWeight":"bold","fontSize":12,"offset":2,"dy":9},"vconcat":[
  {"width":62,"height":95,"title":{"text":"BAL total cells","offset":3},"layer":[
   {"data":{"name":"pts"},"transform":[{"filter":"datum.p=='B'"}],"mark":{"type":"point","filled":true,"size":50,"strokeWidth":1,"opacity":1},"encoding":{"x":{"field":"g","type":"nominal","scale":{"domain":["P","PD","D","DC","C"],"padding":1},"axis":{"values":["P","D","C"],"labels":false,"title":null}},"xOffset":{"field":"k","type":"quantitative","scale":{"domain":[1,11],"range":[-7,7]}},"y":{"field":"v","type":"quantitative","scale":{"domain":[0,1.5],"nice":false},"axis":{"values":[0,0.5,1,1.5],"labelExpr":"datum.value==0?'0':format(datum.value,'.1f')","title":"Number of cells (x10⁶)"}},"shape":{"field":"g","type":"nominal","scale":{"domain":["P","D","C"],"range":["square","circle","triangle-up"]},"legend":null},"stroke":{"field":"g","type":"nominal","scale":{"domain":["P","D","C"],"range":["#000000","#ee1d23","#b23ae8"]},"legend":null},"fill":{"field":"g","type":"nominal","scale":{"domain":["P","D","C"],"range":["transparent","#ee1d23","transparent"]},"legend":null}}},
   {"data":{"name":"ms"},"transform":[{"filter":"datum.p=='B'"}],"mark":{"type":"errorbar","ticks":{"size":9},"thickness":1.3,"color":"#000"},"encoding":{"x":{"field":"g","type":"nominal"},"y":{"field":"lo","type":"quantitative","title":"Number of cells (x10⁶)"},"y2":{"field":"hi"}}},
   {"data":{"name":"ms"},"transform":[{"filter":"datum.p=='B'"}],"mark":{"type":"tick","orient":"horizontal","size":22,"thickness":1.4,"color":"#000"},"encoding":{"x":{"field":"g","type":"nominal"},"y":{"field":"m","type":"quantitative"}}},
   {"data":{"name":"sg"},"transform":[{"filter":"datum.p=='B'"}],"mark":{"type":"rule","color":"#000","strokeWidth":1},"encoding":{"x":{"field":"a","type":"nominal"},"x2":{"field":"b"},"y":{"field":"y","type":"quantitative"}}},
   {"data":{"name":"sg"},"transform":[{"filter":"datum.p=='B'"}],"mark":{"type":"text","fontSize":11,"baseline":"middle","dy":-2},"encoding":{"x":{"field":"c","type":"nominal"},"y":{"field":"y","type":"quantitative"},"text":{"field":"s"}}}
  ]}]},
 {"title":{"text":"(C)","anchor":"start","frame":"bounds","fontWeight":"bold","fontSize":12,"offset":2,"dy":9},"vconcat":[
  {"width":70,"height":95,"title":{"text":"BAL Eosinophils","offset":10},"layer":[
   {"data":{"name":"pts"},"transform":[{"filter":"datum.p=='C'"}],"mark":{"type":"point","filled":true,"size":50,"strokeWidth":1,"opacity":1},"encoding":{"x":{"field":"g","type":"nominal","scale":{"domain":["P","PD","D","DC","C"],"padding":1},"axis":{"values":["P","D","C"],"labels":false,"title":null}},"xOffset":{"field":"k","type":"quantitative","scale":{"domain":[1,11],"range":[-7,7]}},"y":{"field":"v","type":"quantitative","scale":{"domain":[0,1.5],"nice":false},"axis":{"values":[0,0.5,1,1.5],"labelExpr":"datum.value==0?'0':format(datum.value,'.1f')","title":"Number cells(x10⁶)"}},"shape":{"field":"g","type":"nominal","scale":{"domain":["P","D","C"],"range":["square","circle","triangle-up"]},"legend":null},"stroke":{"field":"g","type":"nominal","scale":{"domain":["P","D","C"],"range":["#000000","#ee1d23","#b23ae8"]},"legend":null},"fill":{"field":"g","type":"nominal","scale":{"domain":["P","D","C"],"range":["transparent","#ee1d23","transparent"]},"legend":null}}},
   {"data":{"name":"ms"},"transform":[{"filter":"datum.p=='C'"}],"mark":{"type":"errorbar","ticks":{"size":9},"thickness":1.3,"color":"#000"},"encoding":{"x":{"field":"g","type":"nominal"},"y":{"field":"lo","type":"quantitative","title":"Number cells(x10⁶)"},"y2":{"field":"hi"}}},
   {"data":{"name":"ms"},"transform":[{"filter":"datum.p=='C'"}],"mark":{"type":"tick","orient":"horizontal","size":22,"thickness":1.4,"color":"#000"},"encoding":{"x":{"field":"g","type":"nominal"},"y":{"field":"m","type":"quantitative"}}},
   {"data":{"name":"sg"},"transform":[{"filter":"datum.p=='C'"}],"mark":{"type":"rule","color":"#000","strokeWidth":1},"encoding":{"x":{"field":"a","type":"nominal"},"x2":{"field":"b"},"y":{"field":"y","type":"quantitative"}}},
   {"data":{"name":"sg"},"transform":[{"filter":"datum.p=='C'"}],"mark":{"type":"text","fontSize":11,"baseline":"middle","dy":-2},"encoding":{"x":{"field":"c","type":"nominal"},"y":{"field":"y","type":"quantitative"},"text":{"field":"s"}}}
  ]}]},
 {"title":{"text":"(D)","anchor":"start","frame":"bounds","fontWeight":"bold","fontSize":12,"offset":2,"dy":9},"vconcat":[
  {"width":68,"height":95,"title":{"text":"BAL CD4⁺","offset":8},"layer":[
   {"data":{"name":"pts"},"transform":[{"filter":"datum.p=='D'"}],"mark":{"type":"point","filled":true,"size":50,"strokeWidth":1,"opacity":1},"encoding":{"x":{"field":"g","type":"nominal","scale":{"domain":["P","PD","D","DC","C"],"padding":1},"axis":{"values":["P","D","C"],"labels":false,"title":null}},"xOffset":{"field":"k","type":"quantitative","scale":{"domain":[1,11],"range":[-7,7]}},"y":{"field":"v","type":"quantitative","scale":{"domain":[0,2],"nice":false},"axis":{"values":[0,0.5,1,1.5,2],"labelExpr":"datum.value==0?'0':format(datum.value,'.1f')","title":"Number of cells (x10⁵)"}},"shape":{"field":"g","type":"nominal","scale":{"domain":["P","D","C"],"range":["square","circle","triangle-up"]},"legend":null},"stroke":{"field":"g","type":"nominal","scale":{"domain":["P","D","C"],"range":["#000000","#ee1d23","#b23ae8"]},"legend":null},"fill":{"field":"g","type":"nominal","scale":{"domain":["P","D","C"],"range":["transparent","#ee1d23","transparent"]},"legend":null}}},
   {"data":{"name":"ms"},"transform":[{"filter":"datum.p=='D'"}],"mark":{"type":"errorbar","ticks":{"size":9},"thickness":1.3,"color":"#000"},"encoding":{"x":{"field":"g","type":"nominal"},"y":{"field":"lo","type":"quantitative","title":"Number of cells (x10⁵)"},"y2":{"field":"hi"}}},
   {"data":{"name":"ms"},"transform":[{"filter":"datum.p=='D'"}],"mark":{"type":"tick","orient":"horizontal","size":22,"thickness":1.4,"color":"#000"},"encoding":{"x":{"field":"g","type":"nominal"},"y":{"field":"m","type":"quantitative"}}},
   {"data":{"name":"sg"},"transform":[{"filter":"datum.p=='D'"}],"mark":{"type":"rule","color":"#000","strokeWidth":1},"encoding":{"x":{"field":"a","type":"nominal"},"x2":{"field":"b"},"y":{"field":"y","type":"quantitative"}}},
   {"data":{"name":"sg"},"transform":[{"filter":"datum.p=='D'"}],"mark":{"type":"text","fontSize":11,"baseline":"middle","dy":-2},"encoding":{"x":{"field":"c","type":"nominal"},"y":{"field":"y","type":"quantitative"},"text":{"field":"s"}}}
  ]}]}
 ]}
]},
{"columns":2,"align":"none","spacing":12,"concat":[
 {"title":{"text":"(E)","anchor":"start","frame":"bounds","fontWeight":"bold","fontSize":12,"offset":2},"columns":3,"spacing":{"row":6,"column":8},"concat":[
  {"width":60,"height":95,"title":"BAL","layer":[
   {"data":{"name":"pts"},"transform":[{"filter":"datum.p=='E1'"}],"mark":{"type":"point","filled":true,"size":50,"strokeWidth":1,"opacity":1},"encoding":{"x":{"field":"g","type":"nominal","scale":{"domain":["P","PD","D","DC","C"],"padding":1},"axis":{"values":["P","D","C"],"labels":false,"title":null}},"xOffset":{"field":"k","type":"quantitative","scale":{"domain":[1,11],"range":[-7,7]}},"y":{"field":"v","type":"quantitative","scale":{"domain":[0,30],"nice":false},"axis":{"values":[0,10,20,30],"title":"% Foxp3⁺ of CD4 T"}},"shape":{"field":"g","type":"nominal","scale":{"domain":["P","D","C"],"range":["square","circle","triangle-up"]},"legend":null},"stroke":{"field":"g","type":"nominal","scale":{"domain":["P","D","C"],"range":["#000000","#ee1d23","#b23ae8"]},"legend":null},"fill":{"field":"g","type":"nominal","scale":{"domain":["P","D","C"],"range":["transparent","#ee1d23","transparent"]},"legend":null}}},
   {"data":{"name":"ms"},"transform":[{"filter":"datum.p=='E1'"}],"mark":{"type":"errorbar","ticks":{"size":9},"thickness":1.3,"color":"#000"},"encoding":{"x":{"field":"g","type":"nominal"},"y":{"field":"lo","type":"quantitative","title":"% Foxp3⁺ of CD4 T"},"y2":{"field":"hi"}}},
   {"data":{"name":"ms"},"transform":[{"filter":"datum.p=='E1'"}],"mark":{"type":"tick","orient":"horizontal","size":22,"thickness":1.4,"color":"#000"},"encoding":{"x":{"field":"g","type":"nominal"},"y":{"field":"m","type":"quantitative"}}},
   {"data":{"name":"nd"},"transform":[{"filter":"datum.p=='E1'"}],"mark":{"type":"text","angle":270,"align":"left","baseline":"middle","fontSize":11},"encoding":{"x":{"field":"g","type":"nominal"},"y":{"field":"y","type":"quantitative"},"text":{"field":"t"}}}
  ]},
  {"width":60,"height":95,"title":"Lung","layer":[
   {"data":{"name":"pts"},"transform":[{"filter":"datum.p=='E2'"}],"mark":{"type":"point","filled":true,"size":50,"strokeWidth":1,"opacity":1},"encoding":{"x":{"field":"g","type":"nominal","scale":{"domain":["P","PD","D","DC","C"],"padding":1},"axis":{"values":["P","D","C"],"labels":false,"title":null}},"xOffset":{"field":"k","type":"quantitative","scale":{"domain":[1,11],"range":[-7,7]}},"y":{"field":"v","type":"quantitative","scale":{"domain":[0,40],"nice":false},"axis":{"values":[0,10,20,30,40],"title":null}},"shape":{"field":"g","type":"nominal","scale":{"domain":["P","D","C"],"range":["square","circle","triangle-up"]},"legend":null},"stroke":{"field":"g","type":"nominal","scale":{"domain":["P","D","C"],"range":["#000000","#ee1d23","#b23ae8"]},"legend":null},"fill":{"field":"g","type":"nominal","scale":{"domain":["P","D","C"],"range":["transparent","#ee1d23","transparent"]},"legend":null}}},
   {"data":{"name":"ms"},"transform":[{"filter":"datum.p=='E2'"}],"mark":{"type":"errorbar","ticks":{"size":9},"thickness":1.3,"color":"#000"},"encoding":{"x":{"field":"g","type":"nominal"},"y":{"field":"lo","type":"quantitative","title":null},"y2":{"field":"hi"}}},
   {"data":{"name":"ms"},"transform":[{"filter":"datum.p=='E2'"}],"mark":{"type":"tick","orient":"horizontal","size":22,"thickness":1.4,"color":"#000"},"encoding":{"x":{"field":"g","type":"nominal"},"y":{"field":"m","type":"quantitative"}}},
   {"data":{"name":"sg"},"transform":[{"filter":"datum.p=='E2'"}],"mark":{"type":"rule","color":"#000","strokeWidth":1},"encoding":{"x":{"field":"a","type":"nominal"},"x2":{"field":"b"},"y":{"field":"y","type":"quantitative"}}},
   {"data":{"name":"sg"},"transform":[{"filter":"datum.p=='E2'"}],"mark":{"type":"text","fontSize":11,"baseline":"middle","dy":-2},"encoding":{"x":{"field":"c","type":"nominal"},"y":{"field":"y","type":"quantitative"},"text":{"field":"s"}}}
  ]},
  {"width":60,"height":95,"title":"mLN","layer":[
   {"data":{"name":"pts"},"transform":[{"filter":"datum.p=='E3'"}],"mark":{"type":"point","filled":true,"size":50,"strokeWidth":1,"opacity":1},"encoding":{"x":{"field":"g","type":"nominal","scale":{"domain":["P","PD","D","DC","C"],"padding":1},"axis":{"values":["P","D","C"],"labels":false,"title":null}},"xOffset":{"field":"k","type":"quantitative","scale":{"domain":[1,11],"range":[-7,7]}},"y":{"field":"v","type":"quantitative","scale":{"domain":[0,25],"nice":false},"axis":{"values":[0,5,10,15,20,25],"title":null}},"shape":{"field":"g","type":"nominal","scale":{"domain":["P","D","C"],"range":["square","circle","triangle-up"]},"legend":null},"stroke":{"field":"g","type":"nominal","scale":{"domain":["P","D","C"],"range":["#000000","#ee1d23","#b23ae8"]},"legend":null},"fill":{"field":"g","type":"nominal","scale":{"domain":["P","D","C"],"range":["transparent","#ee1d23","transparent"]},"legend":null}}},
   {"data":{"name":"ms"},"transform":[{"filter":"datum.p=='E3'"}],"mark":{"type":"errorbar","ticks":{"size":9},"thickness":1.3,"color":"#000"},"encoding":{"x":{"field":"g","type":"nominal"},"y":{"field":"lo","type":"quantitative","title":null},"y2":{"field":"hi"}}},
   {"data":{"name":"ms"},"transform":[{"filter":"datum.p=='E3'"}],"mark":{"type":"tick","orient":"horizontal","size":22,"thickness":1.4,"color":"#000"},"encoding":{"x":{"field":"g","type":"nominal"},"y":{"field":"m","type":"quantitative"}}},
   {"data":{"name":"sg"},"transform":[{"filter":"datum.p=='E3'"}],"mark":{"type":"rule","color":"#000","strokeWidth":1},"encoding":{"x":{"field":"a","type":"nominal"},"x2":{"field":"b"},"y":{"field":"y","type":"quantitative"}}},
   {"data":{"name":"sg"},"transform":[{"filter":"datum.p=='E3'"}],"mark":{"type":"text","fontSize":11,"baseline":"middle","dy":-2},"encoding":{"x":{"field":"c","type":"nominal"},"y":{"field":"y","type":"quantitative"},"text":{"field":"s"}}}
  ]},
  {"width":60,"height":90,"layer":[
   {"data":{"name":"pts"},"transform":[{"filter":"datum.p=='E4'"}],"mark":{"type":"point","filled":true,"size":50,"strokeWidth":1,"opacity":1},"encoding":{"x":{"field":"g","type":"nominal","scale":{"domain":["P","PD","D","DC","C"],"padding":1},"axis":{"values":["P","D","C"],"labels":false,"title":null}},"xOffset":{"field":"k","type":"quantitative","scale":{"domain":[1,11],"range":[-7,7]}},"y":{"field":"v","type":"quantitative","scale":{"domain":[0,8],"nice":false},"axis":{"values":[0,2,4,6,8],"title":"Foxp3 MFI (x10³)"}},"shape":{"field":"g","type":"nominal","scale":{"domain":["P","D","C"],"range":["square","circle","triangle-up"]},"legend":null},"stroke":{"field":"g","type":"nominal","scale":{"domain":["P","D","C"],"range":["#000000","#ee1d23","#b23ae8"]},"legend":null},"fill":{"field":"g","type":"nominal","scale":{"domain":["P","D","C"],"range":["transparent","#ee1d23","transparent"]},"legend":null}}},
   {"data":{"name":"ms"},"transform":[{"filter":"datum.p=='E4'"}],"mark":{"type":"errorbar","ticks":{"size":9},"thickness":1.3,"color":"#000"},"encoding":{"x":{"field":"g","type":"nominal"},"y":{"field":"lo","type":"quantitative","title":"Foxp3 MFI (x10³)"},"y2":{"field":"hi"}}},
   {"data":{"name":"ms"},"transform":[{"filter":"datum.p=='E4'"}],"mark":{"type":"tick","orient":"horizontal","size":22,"thickness":1.4,"color":"#000"},"encoding":{"x":{"field":"g","type":"nominal"},"y":{"field":"m","type":"quantitative"}}},
   {"data":{"name":"nd"},"transform":[{"filter":"datum.p=='E4'"}],"mark":{"type":"text","angle":270,"align":"left","baseline":"middle","fontSize":11},"encoding":{"x":{"field":"g","type":"nominal"},"y":{"field":"y","type":"quantitative"},"text":{"field":"t"}}}
  ]},
  {"width":60,"height":90,"layer":[
   {"data":{"name":"pts"},"transform":[{"filter":"datum.p=='E5'"}],"mark":{"type":"point","filled":true,"size":50,"strokeWidth":1,"opacity":1},"encoding":{"x":{"field":"g","type":"nominal","scale":{"domain":["P","PD","D","DC","C"],"padding":1},"axis":{"values":["P","D","C"],"labels":false,"title":null}},"xOffset":{"field":"k","type":"quantitative","scale":{"domain":[1,11],"range":[-7,7]}},"y":{"field":"v","type":"quantitative","scale":{"domain":[0,5],"nice":false},"axis":{"values":[0,1,2,3,4,5],"title":null}},"shape":{"field":"g","type":"nominal","scale":{"domain":["P","D","C"],"range":["square","circle","triangle-up"]},"legend":null},"stroke":{"field":"g","type":"nominal","scale":{"domain":["P","D","C"],"range":["#000000","#ee1d23","#b23ae8"]},"legend":null},"fill":{"field":"g","type":"nominal","scale":{"domain":["P","D","C"],"range":["transparent","#ee1d23","transparent"]},"legend":null}}},
   {"data":{"name":"ms"},"transform":[{"filter":"datum.p=='E5'"}],"mark":{"type":"errorbar","ticks":{"size":9},"thickness":1.3,"color":"#000"},"encoding":{"x":{"field":"g","type":"nominal"},"y":{"field":"lo","type":"quantitative","title":null},"y2":{"field":"hi"}}},
   {"data":{"name":"ms"},"transform":[{"filter":"datum.p=='E5'"}],"mark":{"type":"tick","orient":"horizontal","size":22,"thickness":1.4,"color":"#000"},"encoding":{"x":{"field":"g","type":"nominal"},"y":{"field":"m","type":"quantitative"}}}
  ]},
  {"width":60,"height":90,"layer":[
   {"data":{"name":"pts"},"transform":[{"filter":"datum.p=='E6'"}],"mark":{"type":"point","filled":true,"size":50,"strokeWidth":1,"opacity":1},"encoding":{"x":{"field":"g","type":"nominal","scale":{"domain":["P","PD","D","DC","C"],"padding":1},"axis":{"values":["P","D","C"],"labels":false,"title":null}},"xOffset":{"field":"k","type":"quantitative","scale":{"domain":[1,11],"range":[-7,7]}},"y":{"field":"v","type":"quantitative","scale":{"domain":[0,8],"nice":false},"axis":{"values":[0,2,4,6,8],"title":null}},"shape":{"field":"g","type":"nominal","scale":{"domain":["P","D","C"],"range":["square","circle","triangle-up"]},"legend":null},"stroke":{"field":"g","type":"nominal","scale":{"domain":["P","D","C"],"range":["#000000","#ee1d23","#b23ae8"]},"legend":null},"fill":{"field":"g","type":"nominal","scale":{"domain":["P","D","C"],"range":["transparent","#ee1d23","transparent"]},"legend":null}}},
   {"data":{"name":"ms"},"transform":[{"filter":"datum.p=='E6'"}],"mark":{"type":"errorbar","ticks":{"size":9},"thickness":1.3,"color":"#000"},"encoding":{"x":{"field":"g","type":"nominal"},"y":{"field":"lo","type":"quantitative","title":null},"y2":{"field":"hi"}}},
   {"data":{"name":"ms"},"transform":[{"filter":"datum.p=='E6'"}],"mark":{"type":"tick","orient":"horizontal","size":22,"thickness":1.4,"color":"#000"},"encoding":{"x":{"field":"g","type":"nominal"},"y":{"field":"m","type":"quantitative"}}}
  ]}
 ]},
 {"title":{"text":"(F)","anchor":"start","frame":"bounds","fontWeight":"bold","fontSize":12,"offset":2},"columns":5,"spacing":{"row":6,"column":10},"concat":[
  {"width":64,"height":95,"title":"IL-5⁺ IL-13⁺","layer":[
   {"data":{"name":"pts"},"transform":[{"filter":"datum.p=='F1'"}],"mark":{"type":"point","filled":true,"size":50,"strokeWidth":1,"opacity":1},"encoding":{"x":{"field":"g","type":"nominal","scale":{"domain":["P","PD","D","DC","C"],"padding":1},"axis":{"values":["P","D","C"],"labels":false,"title":null}},"xOffset":{"field":"k","type":"quantitative","scale":{"domain":[1,11],"range":[-7,7]}},"y":{"field":"v","type":"quantitative","scale":{"domain":[0,10],"nice":false},"axis":{"values":[0,2,4,6,8,10],"title":"% of CD4 T"}},"shape":{"field":"g","type":"nominal","scale":{"domain":["P","D","C"],"range":["square","circle","triangle-up"]},"legend":null},"stroke":{"field":"g","type":"nominal","scale":{"domain":["P","D","C"],"range":["#000000","#ee1d23","#b23ae8"]},"legend":null},"fill":{"field":"g","type":"nominal","scale":{"domain":["P","D","C"],"range":["transparent","#ee1d23","transparent"]},"legend":null}}},
   {"data":{"name":"ms"},"transform":[{"filter":"datum.p=='F1'"}],"mark":{"type":"errorbar","ticks":{"size":9},"thickness":1.3,"color":"#000"},"encoding":{"x":{"field":"g","type":"nominal"},"y":{"field":"lo","type":"quantitative","title":"% of CD4 T"},"y2":{"field":"hi"}}},
   {"data":{"name":"ms"},"transform":[{"filter":"datum.p=='F1'"}],"mark":{"type":"tick","orient":"horizontal","size":22,"thickness":1.4,"color":"#000"},"encoding":{"x":{"field":"g","type":"nominal"},"y":{"field":"m","type":"quantitative"}}},
   {"data":{"name":"sg"},"transform":[{"filter":"datum.p=='F1'"}],"mark":{"type":"rule","color":"#000","strokeWidth":1},"encoding":{"x":{"field":"a","type":"nominal"},"x2":{"field":"b"},"y":{"field":"y","type":"quantitative"}}},
   {"data":{"name":"sg"},"transform":[{"filter":"datum.p=='F1'"}],"mark":{"type":"text","fontSize":11,"baseline":"middle","dy":-2},"encoding":{"x":{"field":"c","type":"nominal"},"y":{"field":"y","type":"quantitative"},"text":{"field":"s"}}},
   {"data":{"name":"nd"},"transform":[{"filter":"datum.p=='F1'"}],"mark":{"type":"text","angle":270,"align":"left","baseline":"middle","fontSize":11},"encoding":{"x":{"field":"g","type":"nominal"},"y":{"field":"y","type":"quantitative"},"text":{"field":"t"}}}
  ]},
  {"width":64,"height":95,"title":"IL-4⁺","layer":[
   {"data":{"name":"pts"},"transform":[{"filter":"datum.p=='F2'"}],"mark":{"type":"point","filled":true,"size":50,"strokeWidth":1,"opacity":1},"encoding":{"x":{"field":"g","type":"nominal","scale":{"domain":["P","PD","D","DC","C"],"padding":1},"axis":{"values":["P","D","C"],"labels":false,"title":null}},"xOffset":{"field":"k","type":"quantitative","scale":{"domain":[1,11],"range":[-7,7]}},"y":{"field":"v","type":"quantitative","scale":{"domain":[0,15],"nice":false},"axis":{"values":[0,5,10,15],"title":null}},"shape":{"field":"g","type":"nominal","scale":{"domain":["P","D","C"],"range":["square","circle","triangle-up"]},"legend":null},"stroke":{"field":"g","type":"nominal","scale":{"domain":["P","D","C"],"range":["#000000","#ee1d23","#b23ae8"]},"legend":null},"fill":{"field":"g","type":"nominal","scale":{"domain":["P","D","C"],"range":["transparent","#ee1d23","transparent"]},"legend":null}}},
   {"data":{"name":"ms"},"transform":[{"filter":"datum.p=='F2'"}],"mark":{"type":"errorbar","ticks":{"size":9},"thickness":1.3,"color":"#000"},"encoding":{"x":{"field":"g","type":"nominal"},"y":{"field":"lo","type":"quantitative","title":null},"y2":{"field":"hi"}}},
   {"data":{"name":"ms"},"transform":[{"filter":"datum.p=='F2'"}],"mark":{"type":"tick","orient":"horizontal","size":22,"thickness":1.4,"color":"#000"},"encoding":{"x":{"field":"g","type":"nominal"},"y":{"field":"m","type":"quantitative"}}},
   {"data":{"name":"sg"},"transform":[{"filter":"datum.p=='F2'"}],"mark":{"type":"rule","color":"#000","strokeWidth":1},"encoding":{"x":{"field":"a","type":"nominal"},"x2":{"field":"b"},"y":{"field":"y","type":"quantitative"}}},
   {"data":{"name":"sg"},"transform":[{"filter":"datum.p=='F2'"}],"mark":{"type":"text","fontSize":11,"baseline":"middle","dy":-2},"encoding":{"x":{"field":"c","type":"nominal"},"y":{"field":"y","type":"quantitative"},"text":{"field":"s"}}},
   {"data":{"name":"nd"},"transform":[{"filter":"datum.p=='F2'"}],"mark":{"type":"text","angle":270,"align":"left","baseline":"middle","fontSize":11},"encoding":{"x":{"field":"g","type":"nominal"},"y":{"field":"y","type":"quantitative"},"text":{"field":"t"}}}
  ]},
  {"width":64,"height":95,"title":"IL-17⁺","layer":[
   {"data":{"name":"pts"},"transform":[{"filter":"datum.p=='F3'"}],"mark":{"type":"point","filled":true,"size":50,"strokeWidth":1,"opacity":1},"encoding":{"x":{"field":"g","type":"nominal","scale":{"domain":["P","PD","D","DC","C"],"padding":1},"axis":{"values":["P","D","C"],"labels":false,"title":null}},"xOffset":{"field":"k","type":"quantitative","scale":{"domain":[1,11],"range":[-7,7]}},"y":{"field":"v","type":"quantitative","scale":{"domain":[0,80],"nice":false},"axis":{"values":[0,20,40,60,80],"title":null}},"shape":{"field":"g","type":"nominal","scale":{"domain":["P","D","C"],"range":["square","circle","triangle-up"]},"legend":null},"stroke":{"field":"g","type":"nominal","scale":{"domain":["P","D","C"],"range":["#000000","#ee1d23","#b23ae8"]},"legend":null},"fill":{"field":"g","type":"nominal","scale":{"domain":["P","D","C"],"range":["transparent","#ee1d23","transparent"]},"legend":null}}},
   {"data":{"name":"ms"},"transform":[{"filter":"datum.p=='F3'"}],"mark":{"type":"errorbar","ticks":{"size":9},"thickness":1.3,"color":"#000"},"encoding":{"x":{"field":"g","type":"nominal"},"y":{"field":"lo","type":"quantitative","title":null},"y2":{"field":"hi"}}},
   {"data":{"name":"ms"},"transform":[{"filter":"datum.p=='F3'"}],"mark":{"type":"tick","orient":"horizontal","size":22,"thickness":1.4,"color":"#000"},"encoding":{"x":{"field":"g","type":"nominal"},"y":{"field":"m","type":"quantitative"}}},
   {"data":{"name":"nd"},"transform":[{"filter":"datum.p=='F3'"}],"mark":{"type":"text","angle":270,"align":"left","baseline":"middle","fontSize":11},"encoding":{"x":{"field":"g","type":"nominal"},"y":{"field":"y","type":"quantitative"},"text":{"field":"t"}}}
  ]},
  {"width":64,"height":95,"title":"IFN-γ⁺","layer":[
   {"data":{"name":"pts"},"transform":[{"filter":"datum.p=='F4'"}],"mark":{"type":"point","filled":true,"size":50,"strokeWidth":1,"opacity":1},"encoding":{"x":{"field":"g","type":"nominal","scale":{"domain":["P","PD","D","DC","C"],"padding":1},"axis":{"values":["P","D","C"],"labels":false,"title":null}},"xOffset":{"field":"k","type":"quantitative","scale":{"domain":[1,11],"range":[-7,7]}},"y":{"field":"v","type":"quantitative","scale":{"domain":[0,25],"nice":false},"axis":{"values":[0,5,10,15,20,25],"title":null}},"shape":{"field":"g","type":"nominal","scale":{"domain":["P","D","C"],"range":["square","circle","triangle-up"]},"legend":null},"stroke":{"field":"g","type":"nominal","scale":{"domain":["P","D","C"],"range":["#000000","#ee1d23","#b23ae8"]},"legend":null},"fill":{"field":"g","type":"nominal","scale":{"domain":["P","D","C"],"range":["transparent","#ee1d23","transparent"]},"legend":null}}},
   {"data":{"name":"ms"},"transform":[{"filter":"datum.p=='F4'"}],"mark":{"type":"errorbar","ticks":{"size":9},"thickness":1.3,"color":"#000"},"encoding":{"x":{"field":"g","type":"nominal"},"y":{"field":"lo","type":"quantitative","title":null},"y2":{"field":"hi"}}},
   {"data":{"name":"ms"},"transform":[{"filter":"datum.p=='F4'"}],"mark":{"type":"tick","orient":"horizontal","size":22,"thickness":1.4,"color":"#000"},"encoding":{"x":{"field":"g","type":"nominal"},"y":{"field":"m","type":"quantitative"}}},
   {"data":{"name":"sg"},"transform":[{"filter":"datum.p=='F4'"}],"mark":{"type":"rule","color":"#000","strokeWidth":1},"encoding":{"x":{"field":"a","type":"nominal"},"x2":{"field":"b"},"y":{"field":"y","type":"quantitative"}}},
   {"data":{"name":"sg"},"transform":[{"filter":"datum.p=='F4'"}],"mark":{"type":"text","fontSize":11,"baseline":"middle","dy":-2},"encoding":{"x":{"field":"c","type":"nominal"},"y":{"field":"y","type":"quantitative"},"text":{"field":"s"}}},
   {"data":{"name":"nd"},"transform":[{"filter":"datum.p=='F4'"}],"mark":{"type":"text","angle":270,"align":"left","baseline":"middle","fontSize":11},"encoding":{"x":{"field":"g","type":"nominal"},"y":{"field":"y","type":"quantitative"},"text":{"field":"t"}}}
  ]},
  {"width":24,"height":95,"title":" ","data":{"values":[{"t":"BAL"}]},"mark":{"type":"text","fontSize":12},"encoding":{"text":{"field":"t"}}},
  {"width":64,"height":90,"layer":[
   {"data":{"name":"pts"},"transform":[{"filter":"datum.p=='F5'"}],"mark":{"type":"point","filled":true,"size":50,"strokeWidth":1,"opacity":1},"encoding":{"x":{"field":"g","type":"nominal","scale":{"domain":["P","PD","D","DC","C"],"padding":1},"axis":{"values":["P","D","C"],"labels":false,"title":null}},"xOffset":{"field":"k","type":"quantitative","scale":{"domain":[1,11],"range":[-7,7]}},"y":{"field":"v","type":"quantitative","scale":{"domain":[0,4],"nice":false},"axis":{"values":[0,1,2,3,4],"title":"% of CD4 T"}},"shape":{"field":"g","type":"nominal","scale":{"domain":["P","D","C"],"range":["square","circle","triangle-up"]},"legend":null},"stroke":{"field":"g","type":"nominal","scale":{"domain":["P","D","C"],"range":["#000000","#ee1d23","#b23ae8"]},"legend":null},"fill":{"field":"g","type":"nominal","scale":{"domain":["P","D","C"],"range":["transparent","#ee1d23","transparent"]},"legend":null}}},
   {"data":{"name":"ms"},"transform":[{"filter":"datum.p=='F5'"}],"mark":{"type":"errorbar","ticks":{"size":9},"thickness":1.3,"color":"#000"},"encoding":{"x":{"field":"g","type":"nominal"},"y":{"field":"lo","type":"quantitative","title":"% of CD4 T"},"y2":{"field":"hi"}}},
   {"data":{"name":"ms"},"transform":[{"filter":"datum.p=='F5'"}],"mark":{"type":"tick","orient":"horizontal","size":22,"thickness":1.4,"color":"#000"},"encoding":{"x":{"field":"g","type":"nominal"},"y":{"field":"m","type":"quantitative"}}},
   {"data":{"name":"sg"},"transform":[{"filter":"datum.p=='F5'"}],"mark":{"type":"rule","color":"#000","strokeWidth":1},"encoding":{"x":{"field":"a","type":"nominal"},"x2":{"field":"b"},"y":{"field":"y","type":"quantitative"}}},
   {"data":{"name":"sg"},"transform":[{"filter":"datum.p=='F5'"}],"mark":{"type":"text","fontSize":11,"baseline":"middle","dy":-2},"encoding":{"x":{"field":"c","type":"nominal"},"y":{"field":"y","type":"quantitative"},"text":{"field":"s"}}}
  ]},
  {"width":64,"height":90,"layer":[
   {"data":{"name":"pts"},"transform":[{"filter":"datum.p=='F6'"}],"mark":{"type":"point","filled":true,"size":50,"strokeWidth":1,"opacity":1},"encoding":{"x":{"field":"g","type":"nominal","scale":{"domain":["P","PD","D","DC","C"],"padding":1},"axis":{"values":["P","D","C"],"labels":false,"title":null}},"xOffset":{"field":"k","type":"quantitative","scale":{"domain":[1,11],"range":[-7,7]}},"y":{"field":"v","type":"quantitative","scale":{"domain":[0,5],"nice":false},"axis":{"values":[0,1,2,3,4,5],"title":null}},"shape":{"field":"g","type":"nominal","scale":{"domain":["P","D","C"],"range":["square","circle","triangle-up"]},"legend":null},"stroke":{"field":"g","type":"nominal","scale":{"domain":["P","D","C"],"range":["#000000","#ee1d23","#b23ae8"]},"legend":null},"fill":{"field":"g","type":"nominal","scale":{"domain":["P","D","C"],"range":["transparent","#ee1d23","transparent"]},"legend":null}}},
   {"data":{"name":"ms"},"transform":[{"filter":"datum.p=='F6'"}],"mark":{"type":"errorbar","ticks":{"size":9},"thickness":1.3,"color":"#000"},"encoding":{"x":{"field":"g","type":"nominal"},"y":{"field":"lo","type":"quantitative","title":null},"y2":{"field":"hi"}}},
   {"data":{"name":"ms"},"transform":[{"filter":"datum.p=='F6'"}],"mark":{"type":"tick","orient":"horizontal","size":22,"thickness":1.4,"color":"#000"},"encoding":{"x":{"field":"g","type":"nominal"},"y":{"field":"m","type":"quantitative"}}},
   {"data":{"name":"sg"},"transform":[{"filter":"datum.p=='F6'"}],"mark":{"type":"rule","color":"#000","strokeWidth":1},"encoding":{"x":{"field":"a","type":"nominal"},"x2":{"field":"b"},"y":{"field":"y","type":"quantitative"}}},
   {"data":{"name":"sg"},"transform":[{"filter":"datum.p=='F6'"}],"mark":{"type":"text","fontSize":11,"baseline":"middle","dy":-2},"encoding":{"x":{"field":"c","type":"nominal"},"y":{"field":"y","type":"quantitative"},"text":{"field":"s"}}}
  ]},
  {"width":64,"height":90,"layer":[
   {"data":{"name":"pts"},"transform":[{"filter":"datum.p=='F7'"}],"mark":{"type":"point","filled":true,"size":50,"strokeWidth":1,"opacity":1},"encoding":{"x":{"field":"g","type":"nominal","scale":{"domain":["P","PD","D","DC","C"],"padding":1},"axis":{"values":["P","D","C"],"labels":false,"title":null}},"xOffset":{"field":"k","type":"quantitative","scale":{"domain":[1,11],"range":[-7,7]}},"y":{"field":"v","type":"quantitative","scale":{"domain":[0,25],"nice":false},"axis":{"values":[0,5,10,15,20,25],"title":null}},"shape":{"field":"g","type":"nominal","scale":{"domain":["P","D","C"],"range":["square","circle","triangle-up"]},"legend":null},"stroke":{"field":"g","type":"nominal","scale":{"domain":["P","D","C"],"range":["#000000","#ee1d23","#b23ae8"]},"legend":null},"fill":{"field":"g","type":"nominal","scale":{"domain":["P","D","C"],"range":["transparent","#ee1d23","transparent"]},"legend":null}}},
   {"data":{"name":"ms"},"transform":[{"filter":"datum.p=='F7'"}],"mark":{"type":"errorbar","ticks":{"size":9},"thickness":1.3,"color":"#000"},"encoding":{"x":{"field":"g","type":"nominal"},"y":{"field":"lo","type":"quantitative","title":null},"y2":{"field":"hi"}}},
   {"data":{"name":"ms"},"transform":[{"filter":"datum.p=='F7'"}],"mark":{"type":"tick","orient":"horizontal","size":22,"thickness":1.4,"color":"#000"},"encoding":{"x":{"field":"g","type":"nominal"},"y":{"field":"m","type":"quantitative"}}},
   {"data":{"name":"sg"},"transform":[{"filter":"datum.p=='F7'"}],"mark":{"type":"rule","color":"#000","strokeWidth":1},"encoding":{"x":{"field":"a","type":"nominal"},"x2":{"field":"b"},"y":{"field":"y","type":"quantitative"}}},
   {"data":{"name":"sg"},"transform":[{"filter":"datum.p=='F7'"}],"mark":{"type":"text","fontSize":11,"baseline":"middle","dy":-2},"encoding":{"x":{"field":"c","type":"nominal"},"y":{"field":"y","type":"quantitative"},"text":{"field":"s"}}}
  ]},
  {"width":64,"height":90,"layer":[
   {"data":{"name":"pts"},"transform":[{"filter":"datum.p=='F8'"}],"mark":{"type":"point","filled":true,"size":50,"strokeWidth":1,"opacity":1},"encoding":{"x":{"field":"g","type":"nominal","scale":{"domain":["P","PD","D","DC","C"],"padding":1},"axis":{"values":["P","D","C"],"labels":false,"title":null}},"xOffset":{"field":"k","type":"quantitative","scale":{"domain":[1,11],"range":[-7,7]}},"y":{"field":"v","type":"quantitative","scale":{"domain":[0,15],"nice":false},"axis":{"values":[0,5,10,15],"title":null}},"shape":{"field":"g","type":"nominal","scale":{"domain":["P","D","C"],"range":["square","circle","triangle-up"]},"legend":null},"stroke":{"field":"g","type":"nominal","scale":{"domain":["P","D","C"],"range":["#000000","#ee1d23","#b23ae8"]},"legend":null},"fill":{"field":"g","type":"nominal","scale":{"domain":["P","D","C"],"range":["transparent","#ee1d23","transparent"]},"legend":null}}},
   {"data":{"name":"ms"},"transform":[{"filter":"datum.p=='F8'"}],"mark":{"type":"errorbar","ticks":{"size":9},"thickness":1.3,"color":"#000"},"encoding":{"x":{"field":"g","type":"nominal"},"y":{"field":"lo","type":"quantitative","title":null},"y2":{"field":"hi"}}},
   {"data":{"name":"ms"},"transform":[{"filter":"datum.p=='F8'"}],"mark":{"type":"tick","orient":"horizontal","size":22,"thickness":1.4,"color":"#000"},"encoding":{"x":{"field":"g","type":"nominal"},"y":{"field":"m","type":"quantitative"}}},
   {"data":{"name":"sg"},"transform":[{"filter":"datum.p=='F8'"}],"mark":{"type":"rule","color":"#000","strokeWidth":1},"encoding":{"x":{"field":"a","type":"nominal"},"x2":{"field":"b"},"y":{"field":"y","type":"quantitative"}}},
   {"data":{"name":"sg"},"transform":[{"filter":"datum.p=='F8'"}],"mark":{"type":"text","fontSize":11,"baseline":"middle","dy":-2},"encoding":{"x":{"field":"c","type":"nominal"},"y":{"field":"y","type":"quantitative"},"text":{"field":"s"}}}
  ]},
  {"width":24,"height":90,"data":{"values":[{"t":"Lung"}]},"mark":{"type":"text","fontSize":12},"encoding":{"text":{"field":"t"}}}
 ]}
]},
{"columns":3,"align":"none","spacing":8,"concat":[
 {"width":184,"height":104,"title":{"text":"(G)","anchor":"start","frame":"bounds","fontWeight":"bold","fontSize":12,"offset":2},"layer":[
  {"data":{"name":"dr"},"transform":[{"filter":"datum.p=='G'"}],"mark":{"type":"line","strokeWidth":1},"encoding":{"x":{"field":"d","type":"ordinal","scale":{"domain":["_","BL","0","1.56","3.13","6.25","12.5","25"],"padding":0},"axis":{"values":["BL","0","1.56","3.13","6.25","12.5","25"],"labelAngle":0,"labelFontSize":10,"title":"Metacholine (mg/ml)"}},"y":{"field":"m","type":"quantitative","scale":{"domain":[0,4],"nice":false},"axis":{"values":[0,1,2,3,4],"title":"Max Rrs (cmH2Oxs/m)"}},"color":{"field":"g","type":"nominal","scale":{"domain":["P","D","C"],"range":["#555555","#ee1d23","#b23ae8"]},"legend":null},"order":{"value":null}}},
  {"data":{"name":"dr"},"transform":[{"filter":"datum.p=='G' && datum.g!='C'"}],"mark":{"type":"errorbar","ticks":{"size":6},"thickness":1.2,"color":"#222"},"encoding":{"x":{"field":"d","type":"ordinal"},"y":{"field":"lo","type":"quantitative","title":"Max Rrs (cmH2Oxs/m)"},"y2":{"field":"hi"}}},
  {"data":{"name":"dr"},"transform":[{"filter":"datum.p=='G' && datum.g=='C'"}],"mark":{"type":"errorbar","ticks":{"size":6},"thickness":1.2,"color":"#b23ae8"},"encoding":{"x":{"field":"d","type":"ordinal"},"y":{"field":"lo","type":"quantitative","title":"Max Rrs (cmH2Oxs/m)"},"y2":{"field":"hi"}}},
  {"data":{"name":"dr"},"transform":[{"filter":"datum.p=='G'"}],"mark":{"type":"point","filled":true,"size":36,"strokeWidth":1,"opacity":1},"encoding":{"x":{"field":"d","type":"ordinal"},"y":{"field":"m","type":"quantitative"},"shape":{"field":"g","type":"nominal","scale":{"domain":["P","D","C"],"range":["square","circle","triangle-up"]},"legend":null},"stroke":{"field":"g","type":"nominal","scale":{"domain":["P","D","C"],"range":["#000000","#ee1d23","#b23ae8"]},"legend":null},"fill":{"field":"g","type":"nominal","scale":{"domain":["P","D","C"],"range":["transparent","#ee1d23","transparent"]},"legend":null}}},
  {"data":{"name":"st"},"transform":[{"filter":"datum.p=='G'"}],"mark":{"type":"text","fontSize":12,"baseline":"middle"},"encoding":{"x":{"field":"d","type":"ordinal"},"y":{"field":"y","type":"quantitative"},"text":{"field":"s"}}}
 ]},
 {"width":184,"height":104,"title":{"text":"(H)","anchor":"start","frame":"bounds","fontWeight":"bold","fontSize":12,"offset":2},"layer":[
  {"data":{"name":"dr"},"transform":[{"filter":"datum.p=='H'"}],"mark":{"type":"line","strokeWidth":1},"encoding":{"x":{"field":"d","type":"ordinal","scale":{"domain":["_","BL","0","1.56","3.13","6.25","12.5","25"],"padding":0},"axis":{"values":["BL","0","1.56","3.13","6.25","12.5","25"],"labelAngle":0,"labelFontSize":10,"title":"Metacholine (mg/ml)"}},"y":{"field":"m","type":"quantitative","scale":{"domain":[0,80],"nice":false},"axis":{"values":[0,20,40,60,80],"title":"Max Ers (cmH2O/ml)"}},"color":{"field":"g","type":"nominal","scale":{"domain":["P","D","C"],"range":["#555555","#ee1d23","#b23ae8"]},"legend":null},"order":{"value":null}}},
  {"data":{"name":"dr"},"transform":[{"filter":"datum.p=='H' && datum.g!='C'"}],"mark":{"type":"errorbar","ticks":{"size":6},"thickness":1.2,"color":"#222"},"encoding":{"x":{"field":"d","type":"ordinal"},"y":{"field":"lo","type":"quantitative","title":"Max Ers (cmH2O/ml)"},"y2":{"field":"hi"}}},
  {"data":{"name":"dr"},"transform":[{"filter":"datum.p=='H' && datum.g=='C'"}],"mark":{"type":"errorbar","ticks":{"size":6},"thickness":1.2,"color":"#b23ae8"},"encoding":{"x":{"field":"d","type":"ordinal"},"y":{"field":"lo","type":"quantitative","title":"Max Ers (cmH2O/ml)"},"y2":{"field":"hi"}}},
  {"data":{"name":"dr"},"transform":[{"filter":"datum.p=='H'"}],"mark":{"type":"point","filled":true,"size":36,"strokeWidth":1,"opacity":1},"encoding":{"x":{"field":"d","type":"ordinal"},"y":{"field":"m","type":"quantitative"},"shape":{"field":"g","type":"nominal","scale":{"domain":["P","D","C"],"range":["square","circle","triangle-up"]},"legend":null},"stroke":{"field":"g","type":"nominal","scale":{"domain":["P","D","C"],"range":["#000000","#ee1d23","#b23ae8"]},"legend":null},"fill":{"field":"g","type":"nominal","scale":{"domain":["P","D","C"],"range":["transparent","#ee1d23","transparent"]},"legend":null}}},
  {"data":{"name":"st"},"transform":[{"filter":"datum.p=='H'"}],"mark":{"type":"text","fontSize":12,"baseline":"middle"},"encoding":{"x":{"field":"d","type":"ordinal"},"y":{"field":"y","type":"quantitative"},"text":{"field":"s"}}}
 ]},
 {"width":184,"height":104,"title":{"text":"(I)","anchor":"start","frame":"bounds","fontWeight":"bold","fontSize":12,"offset":2},"layer":[
  {"data":{"name":"dr"},"transform":[{"filter":"datum.p=='I'"}],"mark":{"type":"line","strokeWidth":1},"encoding":{"x":{"field":"d","type":"ordinal","scale":{"domain":["_","BL","0","1.56","3.13","6.25","12.5","25"],"padding":0},"axis":{"values":["BL","0","1.56","3.13","6.25","12.5","25"],"labelAngle":0,"labelFontSize":10,"title":"Metacholine (mg/ml)"}},"y":{"field":"m","type":"quantitative","scale":{"domain":[0,2],"nice":false},"axis":{"values":[0,0.5,1,1.5,2],"labelExpr":"datum.value==0?'0':format(datum.value,'.1f')","title":"Max Rn (cmH2Oxs/ml)"}},"color":{"field":"g","type":"nominal","scale":{"domain":["P","D","C"],"range":["#555555","#ee1d23","#b23ae8"]},"legend":null},"order":{"value":null}}},
  {"data":{"name":"dr"},"transform":[{"filter":"datum.p=='I' && datum.g!='C'"}],"mark":{"type":"errorbar","ticks":{"size":6},"thickness":1.2,"color":"#222"},"encoding":{"x":{"field":"d","type":"ordinal"},"y":{"field":"lo","type":"quantitative","title":"Max Rn (cmH2Oxs/ml)"},"y2":{"field":"hi"}}},
  {"data":{"name":"dr"},"transform":[{"filter":"datum.p=='I' && datum.g=='C'"}],"mark":{"type":"errorbar","ticks":{"size":6},"thickness":1.2,"color":"#b23ae8"},"encoding":{"x":{"field":"d","type":"ordinal"},"y":{"field":"lo","type":"quantitative","title":"Max Rn (cmH2Oxs/ml)"},"y2":{"field":"hi"}}},
  {"data":{"name":"dr"},"transform":[{"filter":"datum.p=='I'"}],"mark":{"type":"point","filled":true,"size":36,"strokeWidth":1,"opacity":1},"encoding":{"x":{"field":"d","type":"ordinal"},"y":{"field":"m","type":"quantitative"},"shape":{"field":"g","type":"nominal","scale":{"domain":["P","D","C"],"range":["square","circle","triangle-up"]},"legend":null},"stroke":{"field":"g","type":"nominal","scale":{"domain":["P","D","C"],"range":["#000000","#ee1d23","#b23ae8"]},"legend":null},"fill":{"field":"g","type":"nominal","scale":{"domain":["P","D","C"],"range":["transparent","#ee1d23","transparent"]},"legend":null}}},
  {"data":{"name":"st"},"transform":[{"filter":"datum.p=='I'"}],"mark":{"type":"text","fontSize":12,"baseline":"middle"},"encoding":{"x":{"field":"d","type":"ordinal"},"y":{"field":"y","type":"quantitative"},"text":{"field":"s"}}}
 ]}
]},
{"columns":2,"align":"none","spacing":40,"concat":[
 {"title":{"text":"(J)","anchor":"start","frame":"bounds","fontWeight":"bold","fontSize":12,"offset":2,"dy":15},"columns":2,"align":"none","spacing":16,"concat":[
  {"title":{"text":"Serum concentration (log₁₀)","orient":"bottom","anchor":"middle","fontSize":11,"offset":2},"hconcat":[
   {"width":64,"height":87,"title":{"text":["Dog extract-","specific IgG1"],"fontSize":11},"layer":[
    {"data":{"name":"ab"},"transform":[{"filter":"datum.p=='J1'"}],"mark":{"type":"line","strokeWidth":1.2},"encoding":{"x":{"field":"c","type":"quantitative","scale":{"domain":[0,-3],"nice":false},"axis":{"values":[0,-1,-2,-3],"labelExpr":"datum.value==0?'0':'-'+abs(datum.value)","title":null}},"y":{"field":"m","type":"quantitative","scale":{"domain":[0,2.5],"nice":false},"axis":{"values":[0,0.5,1,1.5,2,2.5],"labelExpr":"datum.value==0?'0':format(datum.value,'.1f')","title":"Absorbance"}},"color":{"field":"g","type":"nominal","scale":{"domain":["P","D","C"],"range":["#000000","#ee1d23","#b23ae8"]},"legend":null},"order":{"value":null}}},
    {"data":{"name":"ab"},"transform":[{"filter":"datum.p=='J1'"}],"mark":{"type":"errorbar","ticks":{"size":7},"thickness":1.3,"color":"#000"},"encoding":{"x":{"field":"c","type":"quantitative"},"y":{"field":"lo","type":"quantitative","title":"Absorbance"},"y2":{"field":"hi"}}},
    {"data":{"name":"ab"},"transform":[{"filter":"datum.p=='J1'"}],"mark":{"type":"point","filled":true,"size":40,"strokeWidth":1,"opacity":1},"encoding":{"x":{"field":"c","type":"quantitative"},"y":{"field":"m","type":"quantitative"},"shape":{"field":"g","type":"nominal","scale":{"domain":["P","D","C"],"range":["square","circle","triangle-up"]},"legend":null},"stroke":{"field":"g","type":"nominal","scale":{"domain":["P","D","C"],"range":["#000000","#ee1d23","#b23ae8"]},"legend":null},"fill":{"field":"g","type":"nominal","scale":{"domain":["P","D","C"],"range":["transparent","#ee1d23","transparent"]},"legend":null}}},
    {"data":{"name":"sj"},"transform":[{"filter":"datum.p=='J1'"}],"mark":{"type":"text","fontSize":12,"baseline":"middle"},"encoding":{"x":{"field":"c","type":"quantitative"},"y":{"field":"y","type":"quantitative"},"text":{"field":"s"}}}
   ]},
   {"width":64,"height":87,"title":{"text":["Can f 1-","specific IgG1"],"fontSize":11},"layer":[
    {"data":{"name":"ab"},"transform":[{"filter":"datum.p=='J2'"}],"mark":{"type":"line","strokeWidth":1.2},"encoding":{"x":{"field":"c","type":"quantitative","scale":{"domain":[0,-3],"nice":false},"axis":{"values":[0,-1,-2,-3],"labelExpr":"datum.value==0?'0':'-'+abs(datum.value)","title":null}},"y":{"field":"m","type":"quantitative","scale":{"domain":[0,2.5],"nice":false},"axis":{"values":[0,0.5,1,1.5,2,2.5],"labelExpr":"datum.value==0?'0':format(datum.value,'.1f')","title":null}},"color":{"field":"g","type":"nominal","scale":{"domain":["P","D","C"],"range":["#000000","#ee1d23","#b23ae8"]},"legend":null},"order":{"value":null}}},
    {"data":{"name":"ab"},"transform":[{"filter":"datum.p=='J2'"}],"mark":{"type":"errorbar","ticks":{"size":7},"thickness":1.3,"color":"#000"},"encoding":{"x":{"field":"c","type":"quantitative"},"y":{"field":"lo","type":"quantitative","title":null},"y2":{"field":"hi"}}},
    {"data":{"name":"ab"},"transform":[{"filter":"datum.p=='J2'"}],"mark":{"type":"point","filled":true,"size":40,"strokeWidth":1,"opacity":1},"encoding":{"x":{"field":"c","type":"quantitative"},"y":{"field":"m","type":"quantitative"},"shape":{"field":"g","type":"nominal","scale":{"domain":["P","D","C"],"range":["square","circle","triangle-up"]},"legend":null},"stroke":{"field":"g","type":"nominal","scale":{"domain":["P","D","C"],"range":["#000000","#ee1d23","#b23ae8"]},"legend":null},"fill":{"field":"g","type":"nominal","scale":{"domain":["P","D","C"],"range":["transparent","#ee1d23","transparent"]},"legend":null}}},
    {"data":{"name":"sj"},"transform":[{"filter":"datum.p=='J2'"}],"mark":{"type":"text","fontSize":12,"baseline":"middle"},"encoding":{"x":{"field":"c","type":"quantitative"},"y":{"field":"y","type":"quantitative"},"text":{"field":"s"}}}
   ]},
   {"width":70,"height":87,"title":{"text":["Total IgE"," "],"fontSize":11},"layer":[
    {"data":{"name":"ab"},"transform":[{"filter":"datum.p=='J3'"}],"mark":{"type":"line","strokeWidth":1.2},"encoding":{"x":{"field":"c","type":"quantitative","scale":{"domain":[0,-3],"nice":false},"axis":{"values":[0,-1,-2,-3],"labelExpr":"datum.value==0?'0':'-'+abs(datum.value)","title":null}},"y":{"field":"m","type":"quantitative","scale":{"domain":[0,2.5],"nice":false},"axis":{"values":[0,0.5,1,1.5,2,2.5],"labelExpr":"datum.value==0?'0':format(datum.value,'.1f')","title":null}},"color":{"field":"g","type":"nominal","scale":{"domain":["P","D","C"],"range":["#000000","#ee1d23","#b23ae8"]},"legend":null},"order":{"value":null}}},
    {"data":{"name":"ab"},"transform":[{"filter":"datum.p=='J3'"}],"mark":{"type":"errorbar","ticks":{"size":7},"thickness":1.3,"color":"#000"},"encoding":{"x":{"field":"c","type":"quantitative"},"y":{"field":"lo","type":"quantitative","title":null},"y2":{"field":"hi"}}},
    {"data":{"name":"ab"},"transform":[{"filter":"datum.p=='J3'"}],"mark":{"type":"point","filled":true,"size":40,"strokeWidth":1,"opacity":1},"encoding":{"x":{"field":"c","type":"quantitative"},"y":{"field":"m","type":"quantitative"},"shape":{"field":"g","type":"nominal","scale":{"domain":["P","D","C"],"range":["square","circle","triangle-up"]},"legend":null},"stroke":{"field":"g","type":"nominal","scale":{"domain":["P","D","C"],"range":["#000000","#ee1d23","#b23ae8"]},"legend":null},"fill":{"field":"g","type":"nominal","scale":{"domain":["P","D","C"],"range":["transparent","#ee1d23","transparent"]},"legend":null}}},
    {"data":{"name":"sj"},"transform":[{"filter":"datum.p=='J3'"}],"mark":{"type":"text","fontSize":12,"baseline":"middle"},"encoding":{"x":{"field":"c","type":"quantitative"},"y":{"field":"y","type":"quantitative"},"text":{"field":"s"}}}
   ]}
  ],"spacing":10},
  {"width":66,"height":87,"title":{"text":["Can f 1-","specific IgE"],"fontSize":11},"layer":[
   {"data":{"name":"pts"},"transform":[{"filter":"datum.p=='J4'"}],"mark":{"type":"point","filled":true,"size":50,"strokeWidth":1,"opacity":1},"encoding":{"x":{"field":"g","type":"nominal","scale":{"domain":["P","PD","D","DC","C"],"padding":1},"axis":{"values":["P","D","C"],"labels":false,"title":null}},"xOffset":{"field":"k","type":"quantitative","scale":{"domain":[1,11],"range":[-7,7]}},"y":{"field":"v","type":"quantitative","scale":{"domain":[0,0.8],"nice":false},"axis":{"values":[0,0.2,0.4,0.6,0.8],"labelExpr":"datum.value==0?'0':format(datum.value,'.1f')","title":null}},"shape":{"field":"g","type":"nominal","scale":{"domain":["P","D","C"],"range":["square","circle","triangle-up"]},"legend":null},"stroke":{"field":"g","type":"nominal","scale":{"domain":["P","D","C"],"range":["#000000","#ee1d23","#b23ae8"]},"legend":null},"fill":{"field":"g","type":"nominal","scale":{"domain":["P","D","C"],"range":["transparent","#ee1d23","transparent"]},"legend":null}}},
   {"data":{"name":"ms"},"transform":[{"filter":"datum.p=='J4'"}],"mark":{"type":"errorbar","ticks":{"size":9},"thickness":1.3,"color":"#000"},"encoding":{"x":{"field":"g","type":"nominal"},"y":{"field":"lo","type":"quantitative","title":null},"y2":{"field":"hi"}}},
   {"data":{"name":"ms"},"transform":[{"filter":"datum.p=='J4'"}],"mark":{"type":"tick","orient":"horizontal","size":22,"thickness":1.4,"color":"#000"},"encoding":{"x":{"field":"g","type":"nominal"},"y":{"field":"m","type":"quantitative"}}}
  ]}
 ]},
 {"title":{"text":"(K)","anchor":"start","frame":"bounds","fontWeight":"bold","fontSize":12,"offset":2},"vconcat":[
  {"width":70,"height":87,"title":{"text":"BAL Neutrophils","offset":0,"fontSize":11},"layer":[
   {"data":{"name":"pts"},"transform":[{"filter":"datum.p=='K'"}],"mark":{"type":"point","filled":true,"size":50,"strokeWidth":1,"opacity":1},"encoding":{"x":{"field":"g","type":"nominal","scale":{"domain":["P","PD","D","DC","C"],"padding":1},"axis":{"values":["P","D","C"],"labels":false,"title":null}},"xOffset":{"field":"k","type":"quantitative","scale":{"domain":[1,11],"range":[-7,7]}},"y":{"field":"v","type":"quantitative","scale":{"domain":[0,0.6],"nice":false},"axis":{"values":[0,0.2,0.4,0.6],"labelExpr":"datum.value==0?'0':format(datum.value,'.1f')","title":"Number of cells (x10⁶)"}},"shape":{"field":"g","type":"nominal","scale":{"domain":["P","D","C"],"range":["square","circle","triangle-up"]},"legend":null},"stroke":{"field":"g","type":"nominal","scale":{"domain":["P","D","C"],"range":["#000000","#ee1d23","#b23ae8"]},"legend":null},"fill":{"field":"g","type":"nominal","scale":{"domain":["P","D","C"],"range":["transparent","#ee1d23","transparent"]},"legend":null}}},
   {"data":{"name":"ms"},"transform":[{"filter":"datum.p=='K'"}],"mark":{"type":"errorbar","ticks":{"size":9},"thickness":1.3,"color":"#000"},"encoding":{"x":{"field":"g","type":"nominal"},"y":{"field":"lo","type":"quantitative","title":"Number of cells (x10⁶)"},"y2":{"field":"hi"}}},
   {"data":{"name":"ms"},"transform":[{"filter":"datum.p=='K'"}],"mark":{"type":"tick","orient":"horizontal","size":22,"thickness":1.4,"color":"#000"},"encoding":{"x":{"field":"g","type":"nominal"},"y":{"field":"m","type":"quantitative"}}},
   {"data":{"name":"sg"},"transform":[{"filter":"datum.p=='K'"}],"mark":{"type":"rule","color":"#000","strokeWidth":1},"encoding":{"x":{"field":"a","type":"nominal"},"x2":{"field":"b"},"y":{"field":"y","type":"quantitative"}}},
   {"data":{"name":"sg"},"transform":[{"filter":"datum.p=='K'"}],"mark":{"type":"text","fontSize":11,"baseline":"middle","dy":-2},"encoding":{"x":{"field":"c","type":"nominal"},"y":{"field":"y","type":"quantitative"},"text":{"field":"s"}}}
  ]}]}
]}
]
}
